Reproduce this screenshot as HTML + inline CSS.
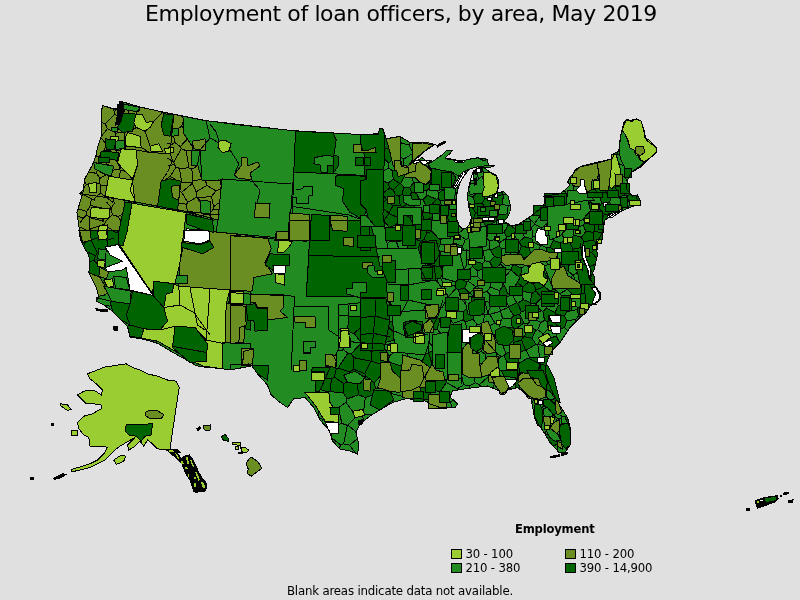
<!DOCTYPE html>
<html><head><meta charset="utf-8"><title>Employment of loan officers, by area, May 2019</title>
<style>
html,body{margin:0;padding:0;background:#e0e0e0;}
body{width:800px;height:600px;overflow:hidden;position:relative;font-family:"DejaVu Sans","Liberation Sans",sans-serif;color:#000;}
#title{position:absolute;left:1px;top:0;width:800px;text-align:center;font-size:22px;letter-spacing:-0.38px;line-height:27px;white-space:nowrap;}
#legt{position:absolute;left:515px;top:522px;font-size:11.6px;letter-spacing:-0.2px;font-weight:bold;line-height:14px;white-space:nowrap;}
.sw{position:absolute;width:9px;height:8px;border:1px solid #000;}
.lb{position:absolute;font-size:11.7px;letter-spacing:-0.18px;line-height:14px;white-space:nowrap;}
#foot{position:absolute;left:0;top:584px;width:800px;text-align:center;font-size:11.8px;letter-spacing:-0.2px;line-height:14px;white-space:nowrap;}
svg{position:absolute;left:0;top:0;}
</style></head><body>
<svg width="800" height="600" viewBox="0 0 800 600" shape-rendering="crispEdges" stroke-width="1">

<polygon points="87.5,373.8 105,367 115,365.5 126.2,363.8 132.5,367.5 140,370 147.5,373.8 157.5,376.2 167.5,380 176.2,381.2 179.2,387.5 175,415 170,448.8 177.5,450 180,452.5 172.5,452.5 166.2,450 157.5,448.8 152.5,443.8 147.5,440 143.8,446.2 140,441.2 135,446.2 128.8,450 127.5,445 135,437.5 126.2,442.5 120,446.2 115,450 110,455 105,460 97.5,463.8 90,467.5 80,470 71.2,472 71.2,469.5 80,467 90,463.8 97.5,460 103.8,453.8 107.5,447.5 102.5,446.2 95,446.2 90,446.2 88.8,437.5 83.8,435 78.8,428.8 77.5,422.5 83.8,416.2 92.5,413.8 101.2,408.8 101.2,405 93.8,403.8 86.2,403.8 81.2,398.8 77.5,395 83.8,391.2 93.8,390 101.2,395 102.5,390 96.2,383.8 90,378.8" fill="#9acd32" stroke="#000"/>
<polygon points="102.5,105.5 108,107 114,109 117,108 119,104 120,101 140,107 165,112.5 205,120.5 240,125 295,130.8 360,134.5 378.8,134 379.2,128 382.5,128 386.2,138.8 400,136.5 409,142 418,142 425.5,143.5 433.8,145 428.5,148 421,154 415,159.2 409,163.8 419.5,159.2 422,157.5 425,160 428.5,163.8 436,159.2 442,154.8 446.5,150.7 452.5,150.2 449.5,154 445,157.8 448,159.2 455.5,160 460,162.2 466,160 472,158.5 478,157.8 484,160.8 487,159.2 488.5,165.2 494.5,165.7 490,167.5 484,167.5 490,172 496,175 498.2,179.5 498.2,188.5 496,193 491.5,196 497.5,193 503.5,191.5 508,196 510.2,205 510,212 507,218 503.8,221.2 510,225 517.5,225 525,220 532.5,215 543.8,206.2 544.5,200 543.8,196.2 552,195 560,193.8 566,189 570,185 567.5,182.5 570,177.5 575,171.2 581.2,166.2 596.2,162.5 612.5,158.8 613.8,153.8 618.8,151.2 621.2,132.5 625.5,121.2 628.8,119.5 631.2,122 636.2,118.8 641.2,121.2 646.2,140 656.2,147.5 656.2,152.5 647.5,160 640,167.5 631.2,172.5 627.5,180 626.2,188.8 632.5,196.2 637.5,195 640,200 640,205 632.5,206.2 623.8,210 616.2,212.5 608.8,217.5 605,220 602.5,232.5 596,245 597.5,255 594,270 590,279 600,292.5 600,300 590,306 586,312.5 577.5,320 570,327.5 560,342.5 552.5,350 547.5,360 545,370 547.5,380 552.5,392.5 561,407.5 567.5,417.5 570,427.5 570,445 565,452.5 559,452.5 550,442.5 544,432.5 537.5,422.5 534,415 532.5,406 531,399 524,392.5 517.5,387.5 507.5,390 502.5,394 497.5,390 487.5,386 475,387.5 460,389.5 452.5,391 450,397 457.5,404 455,407.5 440,407.5 430,404 420,398 405,399 392.5,402.5 380,410 370,416 360,424 356,432.5 359,445 357.5,454 350,451 340,449 332.5,441 329,430 320,420 313.8,407.5 305,397.5 293.8,398.8 287.5,407.5 280,402.5 271.2,395 267.5,385 257.5,373.8 251.2,365 249,364 231,364.4 230,370 220,368.4 204,367 196,365.6 192,363 172,352 159,344 155,342.4 142,339 130,337 129,333 127.5,326.2 121.2,320 112.5,311.2 103.8,305 96.2,301.2 98.8,296.2 96.2,287.5 92.5,280 88.8,272.5 90,265 88.8,255 85,248.8 80.5,240 79.5,230 78,220 77,212.5 79.5,203.8 82,196.2 83.8,188.8 84.2,180 87.5,173.8 92.5,165 95.8,155.5 98,146.2 101.2,136.2 102,127.5 101,115" fill="#228b22" stroke="#000"/>
<polygon points="102.5,105.5 115.5,110 122.5,103.8 140,107 165,112.5 182.5,116.2 183,118 184,134 192,146 193,152 191,164 198,166 202,180 219,181 222,179 218,220 185,211.2 125,200 80,193.8 83.8,188.8 84.2,180 87.5,173.8 92.5,165 95.8,155.5 98,146.2 101.2,136.2 102,127.5 101,115" fill="#6b8e23" stroke="#000"/>
<polygon points="182.5,116.2 205,120.5 295.5,131 293,196 291,239 216,232 218,220 222,179 219,181 202,180 198,166 191,164 193,152 192,146 184,134 183,118" fill="#228b22" stroke="#000"/>
<polygon points="80,193.8 125,200 122.5,240 80.5,240 79.5,230 78,220 77,212.5 79.5,203.8 82,196.2" fill="#6b8e23" stroke="#000"/>
<polygon points="125,202 186.2,212.5 180,262.5 175,283.8 153.8,281.2 152.5,293.8 118.8,243.8" fill="#9acd32" stroke="#000"/>
<polygon points="78.8,230 118.8,230 118,244.5 105.5,247 105.5,267.5 100,277.5 92.5,280 88.8,272.5 90,265 88.8,255 85,248.8 80.5,240" fill="#006400" stroke="#000"/>
<polygon points="186.2,230 216,232 250,235.5 250,291.2 230,290 178.8,286.2 180,262.5" fill="#6b8e23" stroke="#000"/>
<polygon points="132.5,291.2 153,295.5 163.8,307.5 167.5,321.2 160,330 143.8,328.8 130,325 126.2,315 130,303.8" fill="#006400" stroke="#000"/>
<polygon points="173.8,283.8 178.8,286.2 230,290 226.2,303.8 225,343.8 222.5,368.8 203.8,366.2 195,362.5 157.5,341.2 141.2,338 143.8,328.8 160,330 167.5,321.2 163.8,307.5 166.2,293.8 172.5,292.5" fill="#9acd32" stroke="#000"/>
<polygon points="175,326.2 195,327.5 207.5,343.8 206.2,361.2 190,362.5 172.5,347.5" fill="#006400" stroke="#000"/>
<polygon points="226.2,303.8 246.2,305 243.8,342.5 225,343.8" fill="#6b8e23" stroke="#000"/>
<polygon points="222.5,342.5 250,343.8 250,366.2 230,370 222.5,368.8" fill="#228b22" stroke="#000"/>
<polygon points="295.5,131.2 333,133 336.2,140 333.8,155.5 338.8,156.2 338.8,165 333,173.8 293.8,172" fill="#006400" stroke="#000"/>
<polygon points="360.5,134.5 378.8,133.8 379.2,128 382.5,128 386.2,138.8 390,152.5 393,165 391.2,176.2 382.5,182.5 366.2,181.2 365,175 364.2,155 360.8,143.8" fill="#006400" stroke="#000"/>
<polygon points="336.2,175 365,176.2 366.2,181.2 367.5,207.5 362.5,220 355,215 350,212.5 342.5,201.2 343.8,188.8 335,185" fill="#006400" stroke="#000"/>
<polygon points="366,169 405,169 405,178 430.5,181 432,170.5 453,170.5 456,187 444,199 444,209.5 453,220 450,238 435,250 403.5,250 403.5,226 370.5,226 366,209.5 360,203.5 360,181 366,179.5" fill="#006400" stroke="#000"/>
<polygon points="370.5,226 403.5,226 403.5,250 375,250 370.5,235" fill="#228b22" stroke="#000"/>
<polygon points="230,235 235,236.2 267.5,237.5 271.2,248.8 265,262.5 272.5,273.8 253.8,277.5 252.5,290 246.2,293.8 230,292.5" fill="#6b8e23" stroke="#000"/>
<polygon points="245,293.8 283.8,295 283.8,307.5 280,311.2 287.5,317.5 267.5,320 267.5,307.5 257.5,307.5 255,302.5 245,303.8" fill="#6b8e23" stroke="#000"/>
<polygon points="310,220 370,220 377.5,252.5 381.2,257.5 387.5,270 387.5,297.5 306.2,296.2 308.8,255" fill="#006400" stroke="#000"/>
<polygon points="360,300 380,302.5 381.2,315 390,320 390,337.5 380,342.5 355,340 347.5,330 347.5,315 360,312.5" fill="#006400" stroke="#000"/>
<polygon points="340,347.5 380,343.8 390,350 402.5,370 337.5,370" fill="#006400" stroke="#000"/>
<polygon points="312.5,367.5 337.5,367.5 340,347.5 373.8,348.8 377.5,360 390,362.5 392.5,375 380,380 377.5,395 390,400 380,410 375,412.5 360,402.5 350,405 340,416.2 330,402.5 328.8,392 315,391.2 315,380 325,380 324.5,371.2 311.2,371.2" fill="#006400" stroke="#000"/>
<polygon points="568,230 580,226 594,222 604,226 602,240 594,248 588,260 580,258 576,266 568,260 564,248" fill="#006400" stroke="#000"/>
<polygon points="468.5,194.2 482.7,196.5 492.5,195 497.7,192.7 504.5,192.7 509,199.5 509.7,210 506,214.5 504.5,220.5 485,220.5 473,219.7 470,213 470.7,207 467.7,201" fill="#006400" stroke="#000"/>
<path d="M419.3 168.3 422.1 168.9 428.7 166.3 429.7 163 428.5 163.8 425 160 422 157.5 419.5 159.2 416.1 160.7ZM426.3 148.9 413.2 152.9 413.1 153.3 415.4 158.9 421 154 426.7 149.4ZM495.8 239.4 499.3 242.9 506.1 238.3 506.5 236.7 503.9 232.3 497.7 231.6 496.8 232.3ZM450.8 402 451.4 407.3 451.8 407.5 455 407.5 457.5 404 453.4 400.1ZM519 242 510.5 245.7 509.7 247.5 511.1 251.7 518.8 253.5 521.3 245.9 519.1 242ZM627.1 208.5 620.4 204.5 612.6 207.3 611.7 213.7 612.5 214.6 613 214.6 616.2 212.5 623.8 210 627.1 208.6ZM420.9 393.7 418.3 392.6 406.7 396 405.8 397.2 405.9 398.9 420 398 424.2 400.5ZM543.7 234.7 533 236.5 531.8 238.3 532.7 242.1 540.9 245.6 541.9 245.2 544.3 235.3ZM545.4 259.2 547.6 263.9 550.7 265.3 559 262.2 556.5 254.6 545.7 258.8ZM386.8 322.6 399.4 318.9 399.4 310.5 390 304.7 383.3 317.9ZM567.1 205.9 568.5 214.6 570.3 215.2 577.1 209.4 577.5 204.2 576.7 203.2 571.7 202.1ZM654.4 149.2 656.2 150.4 656.2 147.5 655.1 146.6ZM461.6 375 452.5 369.6 446.2 381.1 446.4 382.5 457.4 388.7 463.6 384.8ZM476.5 352.6 481.7 351.7 483 343.3 477.1 340.8 469.7 345.2ZM332 363.5 331 365.7 332.3 365.6ZM450.3 354.8 453.6 350.9 450.7 339.2 449.3 337.2 444 337.1 434 348.1 433.8 350.1 436.1 352.6ZM654.4 149.2 649.2 151.9 645.2 159.2 645.5 160.3 646.4 161.1 647.5 160 656.2 152.5 656.2 150.4ZM398 278.9 390.6 273 388 273.8 388 286.9 394.6 288.2ZM449.3 310.6 447.6 303.3 445.2 300.7 442.4 299.4 438.4 299.3 430.8 313.4 440 319.4 447.5 316.2ZM494.1 334.7 500.8 329.2 498.6 324 495 323.1 487 327.1 486.8 332.1ZM451.4 244.9 440.7 244.2 437.2 249.9 439.2 252.1 452.6 254.4ZM350.4 332.7 347.6 329.1 338 329.1 338 340.5 342.9 344ZM388.4 168.1 388.5 163.2 384.2 158.4 383.9 170.6ZM318.7 417.3 320 420 321.5 421.7 323 419.5 323 419.4ZM395.4 238.7 400.3 236.2 401.5 228 396.9 224.2 389.2 227.5 388.5 231.6 393 238.1ZM426.3 148.9 426.7 149.4 428.5 148 433.8 145 430.7 144.4 426.8 147.2ZM443.2 155.6 444.2 152.8 442 154.8 440.6 155.8ZM477.4 286.4 481 279.9 477.3 276 470.2 277.1 468.3 281.3 475.8 286.6ZM600.5 162.2 600.3 164 605.2 171.6 611.3 172 616.7 163 615.6 156.5 613.2 155.9 612.5 158.8 601.7 161.2ZM506.4 387.7 502.2 381.3 495.1 381.7 492.9 388.2 497.5 390 501.6 393.3ZM400.8 347.6 389.3 355.9 388.3 361.6 403.5 366.9 407.5 363.6 407.1 353.9 401.1 347.7ZM550.7 390.5 548.3 388.5 536.1 390.5 535.3 392.4 536.2 397.6 544.4 403.7 545.1 403.5 551.5 393.1ZM343.8 349.7 342.9 344 338 340.5 338 350 337.5 351.2ZM576.9 283.9 581.2 285.3 586 281.7 580.8 271.8 579 271.4 573.1 275.3ZM576.7 171.5 578 170.3 577.6 169.2 575 171.2 574.6 171.8ZM347.2 398.8 345.9 402.4 356.6 416.4 362.1 415.7 363.1 414.7 365.3 397.5 358.6 394.9ZM348.1 425.1 347.3 425.3 343.7 443.9 349.5 445.2 357.5 438.6 356 432.5 356.2 432.1ZM483.6 301.3 492.2 302.8 495.6 300.8 495.6 300.8 487.1 291.5 482.8 292.8 481.5 295.8ZM475.9 166.8 475.8 165.6 473.5 162.6 460.5 163 457.7 170.6 461 175.8 464.3 175.4 464.5 175 470 169 475 167.5 475.7 167.3ZM564.5 304.5 566.6 311.8 577.5 309.5 578.2 307.8 570.3 301.4 565.4 303ZM432.9 295.7 431.5 291.1 421.6 284.9 412.5 292.2 412.4 292.3 421.7 301ZM348.1 316 349.1 303.9 338 305 338 315.3ZM515 376.5 506.3 374.3 502.2 381.3 506.4 387.7 511.8 388.9 515.8 387.9ZM485.3 354.4 485.9 360.4 495.2 363.3 501 356.4 492.9 350.6ZM472.7 303.8 474.7 297.9 470.1 293 469.3 293 462.6 300.2 467.3 307ZM557.3 418.5 555 425.4 561.1 431.8 567.3 427.4 565.1 417.5ZM440.4 278.1 445 285.4 454.9 286.1 456.5 277.6 452.3 274.2 443.1 273.9ZM485.6 227.3 488.3 231.5 496.8 232.3 497.7 231.6 496.5 221.3 485.7 226.5ZM507.5 258.2 501.7 258.8 500.7 264.2 505.7 269.6 510.8 269.1 513.8 264.2 513.6 263.2ZM396.7 155.8 403.9 159 413.1 153.3 413.2 152.9 408.9 145 397 141.8 394.3 146.8ZM340.7 445 331.4 437.6 332.5 441 339.3 448.3ZM323 419.4 323 419.5 333 426.4 341.9 423.5 338.4 407.7 329.4 407ZM470.6 233.3 475.6 230.9 472.9 221.2 469.7 223.1 469 225 466 228 464.9 228.3ZM577.1 209.4 582.7 215.8 588.5 210.8 587.7 205.1 577.5 204.2ZM489.4 175.5 491.6 172.8 490 172 484 167.5 478 168 477.9 168.1ZM475.8 165.6 475.9 166.8 476.4 167.1 481 166 484 167.5 490 167.5 493.5 166.1 493.4 165.6 488.5 165.2 487.7 161.9ZM640.2 136.3 638 141.1 649.2 151.9 654.4 149.2 655.1 146.6 646.2 140 644.6 133.7ZM436.3 401.9 425.5 401.3 430 404 436.3 406.2ZM564.5 327.5 559.7 328.8 556.9 332 556.2 336.1 559.6 342.3 560.1 342.3 567.9 330.6ZM446 229.1 446.9 233.9 454 237 458.1 233.9 458.1 233.8 453.6 223.7ZM388.4 168.1 392.7 170.7 403.6 170 403.9 159 396.7 155.8 388.5 163.2ZM411.9 262.3 405.4 264.5 403.5 277.1 406.3 278.5 416 275.6 418.5 267.1ZM516.6 302.7 517.8 303.2 523.1 299.5 522.4 291.8 512.6 293.2 512.1 294.3ZM323 419.4 329.4 407 327.2 403.6 318 402.2 318 416 318.7 417.3ZM551.7 349.8 547.6 356.6 548.6 357.9 552.5 350 552.9 349.6ZM526 350.2 529.9 357.9 539.7 357.1 537.8 344.8 537.7 344.7 536 344.3ZM576.7 203.2 580.5 194 573.1 191.1 567.7 194.7 571.7 202.1ZM573.4 184.2 576.8 182.2 576.7 171.5 574.6 171.8 570 177.5 567.6 182.3 567.9 182.8ZM483.8 250.9 489.1 249.4 489.4 240.8 486.7 238.2 480.4 239.5 478 243.3ZM570.3 215.2 573.3 219.6 582.4 218.4 582.7 215.8 577.1 209.4ZM487.6 271.8 487.6 278.8 490.1 280.7 499.3 278 495.3 268 492.6 267.6ZM629.1 168.7 624.8 176.5 627.3 181.3 627.5 180 631.2 172.5 634.9 170.4ZM472.4 207.2 474.9 203 472.8 196.8 467.7 195.4 467.5 197.5 468.9 207.6ZM637.2 202.9 630 204.8 627.1 208.5 627.1 208.6 632.5 206.2 640 205 640 204.5ZM573.1 275.3 579 271.4 576.3 263.7 569 265.2 568 270.9 572.8 275.2ZM402.4 377.5 404.1 379.2 417.7 380.1 419.6 378.1 416.9 365.3 407.5 363.6 403.5 366.9ZM545.8 207.1 538.8 212.3 539.6 216.8 546.4 218.6 549.4 214.2ZM480 182.2 479.8 182.6 484.7 188.9 491 188.3 493.6 184.1 493.6 183.6 489.3 177.7ZM426.8 147.2 430.7 144.4 425.5 143.5 424.9 143.4ZM461 299.5 458.5 289.6 455.9 288.3 445.2 300.7 447.6 303.3ZM615.8 186.5 624.6 186.9 626.8 184.6 627.3 181.3 624.8 176.5 614.7 176.4 613.6 184.5ZM452.9 259.9 442.5 264.4 441.3 267.2 443.1 273.9 452.3 274.2 456.4 263.6ZM548.3 388.5 547.9 381.4 541.6 377.3 532.7 382.5 536.1 390.5ZM498.6 324 502.5 318.1 500.4 311.4 489.7 314.3 495 323.1ZM451.5 196.7 450.8 200.5 456.2 202.7 456.2 197.5 457.2 192.6ZM374.4 382.8 375.5 388.5 389.6 389.3 393.4 380.7 383.8 372.2ZM392.1 262.4 395.5 259.2 395.4 255.8 388 250.5 388 262.1ZM541.9 245.2 546.7 248 549.9 247.1 553.4 240.4 550.9 235.2 544.3 235.3ZM426.3 207 423.2 199.6 419.1 198.9 413 203.7 415.8 209.3 422.4 210.4ZM645.5 160.3 640.4 167.1 646.4 161.1ZM521.1 227.7 522.8 228.8 531.6 227.8 534.6 224.1 534.5 223.5 528.3 217.8 525 220 521.3 222.5ZM506.5 236.7 506.1 238.3 510.5 245.7 519 242 514.2 235.2ZM362.1 415.7 356.6 416.4 348.1 425.1 356.2 432.1 360 424 364 420.8ZM508.8 224.5 515.9 229.3 521.1 227.7 521.3 222.5 517.5 225 510 225 508.8 224.3ZM393.4 380.7 389.6 389.3 392.1 393.8 405.8 397.2 406.7 396 404.1 379.2 402.4 377.5ZM527.3 324.1 524.1 323 515.2 329.2 522.8 337.3 524.6 336.6 528.2 325.9ZM423.9 179.2 422.1 168.9 419.3 168.3 410 173.1 413.7 182.7 418.6 184ZM450.8 200.5 450.4 200.8 449.4 209.9 453.8 213.3 456.5 211.8 456.2 208 456.2 202.7ZM432.8 169.1 433.3 181.1 440.5 180.8 442.2 170.1ZM442.4 299.4 445 285.4 440.4 278.1 437.9 279 431.5 291.1 432.9 295.7 438.4 299.3ZM590.1 176.8 584.6 185.9 584.7 186.2 595.7 190.4 598.8 179.3 598.7 178.9ZM489.1 249.4 490.4 250 499.3 246.1 499.3 242.9 495.8 239.4 489.4 240.8ZM539.6 216.8 538.8 212.3 537.2 211.3 532.5 215 528.3 217.8 534.5 223.5ZM453.1 323.3 463.1 319.8 463.1 311.7 449.3 310.6 447.5 316.2ZM453.6 350.9 462.2 352 468.2 344.9 466.2 341.2 450.7 339.2ZM465.3 269.7 467.4 270.2 472.6 266.8 473.9 261.2 473.5 260.4 464.9 259.2 461.1 263.9ZM578 170.3 586.3 170.1 587.7 167.7 587.5 164.7 581.2 166.2 577.6 169.2ZM561.1 431.8 555 425.4 548.2 426.6 544.6 433.4 544.8 433.6 558.9 439.5ZM529 247.9 531.3 254.3 535.1 255.7 540.9 245.6 532.7 242.1ZM599.1 194 596.8 193.1 590.2 199 590 202.3 599.7 206 601.8 203.3ZM525.5 265.2 528.7 266.7 535.4 263.4 537.3 258.5 535.1 255.7 531.3 254.3 524.6 257.9ZM530.3 272.8 526.6 276.9 528.5 282 533.6 283.9 537.8 278.9 536.4 273.3ZM535.4 263.4 538.4 270.6 543.5 270.3 547.6 263.9 545.4 259.2 537.3 258.5ZM456.5 184.4 452.5 183.8 447.2 190.5 451.5 196.7 457.2 192.6 457.8 190 458 189.1ZM485.1 342.2 492.6 344 494.9 341.9 494.1 334.7 486.8 332.1 486 332.9ZM557.9 405.8 554.1 408 553 414.7 557.3 418.5 565.1 417.5 566.3 415.7 561 407.5 560.9 407.3ZM584.6 222.2 582.4 218.4 573.3 219.6 571.6 227.5 573 229 583.4 225.3ZM452.4 369 452.5 369.6 461.6 375 470.9 371.2 470.1 362 466.1 360.3ZM531.8 402.7 532.5 406 533.1 409.5 535 410.9 541.8 408.8 544.4 403.7 536.2 397.6ZM578 170.3 576.7 171.5 576.8 182.2 584.6 185.9 590.1 176.8 586.3 170.1ZM414 252.5 411.9 262.3 418.5 267.1 425.5 266.3 427.7 264 428.5 255.9 417.3 250.7ZM493.6 183.6 493.6 184.1 498.2 186.4 498.2 180.1ZM626.6 141.4 624.7 130.1 622.3 129.7 621.2 132.5 619.8 143.6ZM410 173.1 406.3 172.5 400.8 183.5 404 187 409.6 187.4 413.7 182.7ZM565.2 281.8 562 280.1 555.4 282 554.8 289.3 559.3 293.2 560.3 293.3 567.5 289.3 567.7 288.7ZM550.7 390.5 551.5 393.1 553.7 394.6 552.5 392.5 551.5 390ZM624.7 130.1 626.6 141.4 632.6 144.4 638 141.1 640.2 136.3 629.9 127.1ZM541.7 369.4 541.6 377.3 547.9 381.4 548 381.3 547.5 380 545 370 545.2 369ZM450.8 402 453.4 400.1 450 397 452.5 391 457.4 390 457.4 388.7 446.4 382.5 439.7 392.4 440.4 397.4ZM456.4 263.6 452.3 274.2 456.5 277.6 457.3 277.5 465.3 269.7 461.1 263.9ZM361 342.3 360.9 343.7 371.5 351.8 381.1 343 378.2 336 372.2 333.9ZM501 356.4 495.2 363.3 495.5 368.2 505.7 372.5 508.8 364.6 503.8 355.8ZM451 367.3 452.4 369 466.1 360.3 462.2 352 453.6 350.9 450.3 354.8ZM392.1 393.8 389.6 389.3 375.5 388.5 371.6 395.4 383.1 408.1 385.9 406.4ZM427 330.1 425 337.7 434 348.1 444 337.1 437.1 329.1ZM609.7 202.4 612.6 207.3 620.4 204.5 619.9 196.8 616.6 195.5 610.9 197.9ZM450.7 339.2 466.2 341.2 467.2 331.4 467 331.2 453.4 331.1 449.3 337.2ZM546.2 202.8 548.8 195.5 543.8 196.2 544.5 200 544.3 201.8ZM535.3 392.4 536.1 390.5 532.7 382.5 529.8 380.6 518.8 388.5 524 392.5 525.8 394.1ZM495.1 381.7 502.2 381.3 506.3 374.3 505.7 372.5 495.5 368.2 489.5 375.4 489.6 375.6ZM503.2 194.5 503.1 194.6 502.9 204.2 508.1 206.1 510.2 205.2 510.2 205 508 196 506.4 194.4ZM487.1 291.5 490.4 287 490.1 280.7 487.6 278.8 481 279.9 477.4 286.4 482.8 292.8ZM544.4 403.7 541.8 408.8 545.9 417.1 553 414.7 554.1 408 545.1 403.5ZM532.1 338.3 536 344.3 537.7 344.7 543.3 333.8 543.3 333.8 537.7 329.8 535.8 330.2ZM467.3 307 462.6 300.2 461 299.5 447.6 303.3 449.3 310.6 463.1 311.7 467.1 307.9ZM543.5 270.3 547.8 278 550.9 277.7 553.9 272.3 550.7 265.3 547.6 263.9ZM508.1 206.1 507.6 213.9 508.6 214.8 510 212 510.2 205.2ZM506.4 387.7 501.6 393.3 502.5 394 507.5 390 511.8 388.9ZM470.6 184.1 475.1 185.2 479.8 182.6 480 182.2 475.4 169.7 473.5 171 470.5 179.5 470.4 180.1ZM328.9 392.2 327.2 403.6 329.4 407 338.4 407.7 345.9 402.4 347.2 398.8 343.1 393 329.9 391.5ZM474.2 314.8 473.1 319.2 477.1 324.6 483 323.2 484.9 313.9 482.6 312.5ZM600.1 161.6 596.2 162.5 587.5 164.7 587.7 167.7 600.3 164 600.5 162.2ZM633.3 120.7 631.7 121.7 629.9 127.1 640.2 136.3 644.6 133.7 641.5 122ZM349.5 445.2 343.7 443.9 340.7 445 339.3 448.3 340 449 350 451 355.8 453.3ZM323 419.5 321.5 421.7 329 430 331 436.2 333 426.4ZM626.8 195.9 624.8 195 619.9 196.8 620.4 204.5 627.1 208.5 630 204.8ZM371.6 395.4 365.3 397.5 363.1 414.7 372 414.8 380 410 383.1 408.1ZM444.4 169 446 159.6 443.2 155.6 440.6 155.8 436 159.2 429.7 163 428.7 166.3 432.8 169.1 442.2 170.1ZM405.8 397.2 392.1 393.8 385.9 406.4 392.5 402.5 405 399 405.9 398.9ZM443.2 155.6 446 159.6 453.7 159.8 448 159.2 445 157.8 449.5 154 452.5 150.2 446.5 150.7 444.2 152.8ZM452.6 254.4 439.2 252.1 442.5 264.4 452.9 259.9 453 254.9ZM417.7 380.1 404.1 379.2 406.7 396 418.3 392.6ZM535 410.9 533.1 409.5 534 415 534.6 416.3ZM645.2 159.2 649.2 151.9 638 141.1 632.6 144.4 631.6 154.1 632.4 155.4ZM518.8 253.5 511.1 251.7 507.5 258.2 513.6 263.2 520 256.3ZM482.5 263.3 482.8 268.6 487.6 271.8 492.6 267.6 489.6 261.6 485.1 260.9ZM499.5 290.7 490.4 287 487.1 291.5 495.6 300.8 500 297.1ZM535.8 330.2 537.7 329.8 540.8 322.3 532.7 318.5 527.3 324.1 528.2 325.9ZM416.9 365.3 421.9 362.6 424.8 354.5 416.7 348.8 407.1 353.9 407.5 363.6ZM484.9 313.9 487.7 313.4 492.2 302.8 483.6 301.3 480.8 306.6 482.6 312.5ZM525.8 394.1 531 399 531.8 402.7 536.2 397.6 535.3 392.4ZM564.9 240.2 569 240.5 574 234.9 573 229 571.6 227.5 563.9 226.6 559.7 229.7ZM340.7 445 343.7 443.9 347.3 425.3 341.9 423.5 333 426.4 331 436.2 331.4 437.6ZM463.6 250 470.6 250 475 243.7 468.7 238.4 465.4 239.5 462.4 246.3ZM387.1 243.7 388 250 388 250.5 395.4 255.8 399.3 250.4 395.4 238.7 393 238.1ZM438.1 198.8 439.1 192.7 430.8 186.8 426.7 190.8 427 195.2 436.4 199.3ZM550.9 235.2 555.5 229.6 552.8 224.7 548 222.7 541.6 228 543.7 234.7 544.3 235.3ZM631.6 154.1 632.6 144.4 626.6 141.4 619.8 143.6 618.8 151.2 617.8 151.7 617.6 154.5ZM567.2 194.5 564.2 190.4 560 193.8 555.7 194.4 558.3 200.9ZM396 137.9 397 141.8 408.9 145 410.6 142 409 142 400 136.5 396.6 137.1ZM461 175.8 457.7 170.6 450.1 172.3 449.9 181 452.5 183.8 456.5 184.4 459.9 181.4ZM348.1 316 348.9 316.9 360.5 316.9 365.1 307 362.6 302.5 349.1 303.9ZM425.5 266.3 418.5 267.1 416 275.6 421.8 282.7 429 276.1ZM629.1 168.7 634.9 170.4 640 167.5 640.4 167.1 645.5 160.3 645.2 159.2 632.4 155.4 628.5 167.2ZM531.6 227.8 533 236.5 543.7 234.7 541.6 228 534.6 224.1ZM501.6 248.5 501.2 258.2 501.7 258.8 507.5 258.2 511.1 251.7 509.7 247.5ZM365.1 307 372.7 308.3 379.2 300.9 362.6 302.5ZM540.9 245.6 535.1 255.7 537.3 258.5 545.4 259.2 545.7 258.8 546.7 248 541.9 245.2ZM501.6 342.4 505.9 353.3 511.8 351.1 513.6 342.6 510.2 338.7 505.2 338.1ZM388.1 183.2 393.1 179 392.7 170.7 388.4 168.1 383.9 170.6 383.7 181.1ZM614.7 176.4 624.8 176.5 629.1 168.7 628.5 167.2 616.7 163 611.3 172ZM508.5 307.4 508.7 306.9 505.1 298.1 500 297.1 495.6 300.8 495.6 300.8 500.7 310.5ZM547.7 301.4 545.6 298.7 541.7 297.9 535.5 303.9 541.2 310.8 542.8 311.2 546.7 308.2ZM470.1 362 470.9 371.2 473.7 373.7 483.1 370.2 482.7 363.8 472 361.1ZM467.2 331.4 466.2 341.2 468.2 344.9 469.7 345.2 477.1 340.8 476.8 333.4 474.1 330.8ZM451.4 407.3 450.8 402 440.4 397.4 436.3 401.9 436.3 406.2 440 407.5 451.3 407.5ZM501.4 278.7 501.3 278.6 499.3 278 490.1 280.7 490.4 287 499.5 290.7 502.7 286.3ZM470.2 277.1 477.3 276 477.9 271.1 472.6 266.8 467.4 270.2ZM554.2 300.6 547.7 301.4 546.7 308.2 555.1 312.4 558.3 305.5ZM590.7 281.6 593.2 289.1 598.4 291.7 599.2 291.4 591.4 281ZM569 265.2 576.3 263.7 577.5 260.7 571.3 252.8 568.6 253.9 565.6 261.5ZM520 256.3 513.6 263.2 513.8 264.2 521.3 268 525.5 265.2 524.6 257.9ZM470.6 184.1 469.4 184.7 468.2 190 467.7 195.4 472.8 196.8 476.2 193.5 475.1 185.2ZM521.3 268 520.9 274.9 526.6 276.9 530.3 272.8 528.7 266.7 525.5 265.2ZM469.1 385.9 475.1 382.8 473.7 373.7 470.9 371.2 461.6 375 463.6 384.8ZM363.1 414.7 362.1 415.7 364 420.8 370 416 372 414.8ZM545.1 418.7 536.7 420.8 537.5 422.5 544 432.5 544.5 433.3 544.6 433.4 548.2 426.6ZM466.1 360.3 470.1 362 472 361.1 476.5 352.6 469.7 345.2 468.2 344.9 462.2 352ZM559.1 440.1 557 444.6 558.1 451.5 559 452.5 565 452.5 570 445 570 443ZM476.8 333.4 477.1 340.8 483 343.3 485.1 342.2 486 332.9ZM470.6 250 474.8 255.8 483.1 252.1 483.8 250.9 478 243.3 475 243.7ZM502.9 204.2 498.7 206.4 499 214.7 507.6 213.9 508.1 206.1ZM527.7 362.5 529.9 357.9 526 350.2 525.6 350.1 517.1 353.4 519.4 364.8ZM624.7 130.1 629.9 127.1 631.7 121.7 631.2 122 628.8 119.5 625.5 121.2 622.3 129.7ZM572.4 294.9 570.3 301.4 578.2 307.8 580.6 306.2 580 294.6ZM460.5 163 473.5 162.6 473.8 158.3 472 158.5 466 160 460 162.2 459.8 162.2ZM392.1 262.4 390.6 273 398 278.9 403.5 277.1 405.4 264.5 395.5 259.2ZM565.4 303 570.3 301.4 572.4 294.9 567.5 289.3 560.3 293.3ZM458.1 233.8 464.9 228.3 462.5 229 459.5 226 457.8 221.9 454 222.2 453.6 223.7ZM503.9 232.3 508.6 224.6 497.1 220.3 496.5 221.3 497.7 231.6ZM388.5 231.6 389.2 227.5 383.9 220.6 383.8 220.6 385.5 232.5ZM428.8 378.2 432.5 374.6 432.7 369.6 421.9 362.6 416.9 365.3 419.6 378.1ZM485.1 342.2 483 343.3 481.7 351.7 485.3 354.4 492.9 350.6 492.6 344ZM587.7 167.7 586.3 170.1 590.1 176.8 598.7 178.9 605.2 171.6 600.3 164ZM473.2 220.5 472.9 221.2 475.6 230.9 477.1 231.4 485.6 227.3 485.7 226.5 483.4 221.6ZM440 319.4 437.1 329.1 444 337.1 449.3 337.2 453.4 331.1 453.1 323.3 447.5 316.2ZM469.1 385.9 463.6 384.8 457.4 388.7 457.4 390 460 389.5 469.4 388.2ZM580.5 194 582.6 192.8 584.7 186.2 584.6 185.9 576.8 182.2 573.4 184.2 573.1 191.1ZM528.1 309.7 532.9 315 541.2 310.8 535.5 303.9 530.7 303.7ZM469.3 293 470.1 293 475.8 286.6 468.3 281.3 467.2 281.8 464.6 288ZM453.8 213.3 452.9 220 454 222.2 457.8 221.9 457 220 456.5 211.8ZM555.4 282 550.9 277.7 547.8 278 545.6 279.9 544.6 286.5 549.2 290.6 554.8 289.3ZM485.1 260.9 489.6 261.6 494.2 256.5 490.4 250 489.1 249.4 483.8 250.9 483.1 252.1ZM557.9 405.8 560.9 407.3 558.3 402.7ZM540.2 357.5 547.6 356.6 551.7 349.8 547.2 345.5 537.8 344.8 539.7 357.1ZM432.7 369.6 432.5 374.6 446.2 381.1 452.5 369.6 452.4 369 451 367.3 437.5 364.8ZM477.1 324.6 474.1 330.8 476.8 333.4 486 332.9 486.8 332.1 487 327.1 483 323.2ZM511 318.6 502.5 318.1 498.6 324 500.8 329.2 501.6 329.7 512.2 327.1ZM545.1 403.5 554.1 408 557.9 405.8 558.3 402.7 553.7 394.6 551.5 393.1ZM459.9 181.4 456.5 184.4 458 189.1 460 182.5 460.5 181.6ZM495.5 368.2 495.2 363.3 485.9 360.4 482.7 363.8 483.1 370.2 489.5 375.4ZM462.4 246.3 465.4 239.5 458.1 233.9 454 237 453.6 242.7ZM479.5 384.5 480.8 386.8 487.5 386 492.9 388.2 495.1 381.7 489.6 375.6ZM500.8 329.2 494.1 334.7 494.9 341.9 501.6 342.4 505.2 338.1 501.6 329.7ZM566.7 320.6 575.3 319.7 578.4 316.1 577.5 309.5 566.6 311.8 564.5 316ZM356.6 416.4 345.9 402.4 338.4 407.7 341.9 423.5 347.3 425.3 348.1 425.1ZM421.7 301 412.4 292.3 406.3 296.1 406.6 305.8 413.8 311.1 420.5 308.9ZM452.9 259.9 456.4 263.6 461.1 263.9 464.9 259.2 462.9 251.2 453 254.9ZM568 270.9 561.8 272 562 280.1 565.2 281.8 572.8 275.2ZM578.4 316.1 575.3 319.7 576 321.5 577.5 320 580.8 317ZM482.8 292.8 477.4 286.4 475.8 286.6 470.1 293 474.7 297.9 481.5 295.8ZM537.8 344.8 547.2 345.5 549.3 338.4 543.3 333.8 537.7 344.7ZM425 337.7 416.8 341 416.7 348.8 424.8 354.5 433.8 350.1 434 348.1ZM523.1 299.5 529.9 302.2 532.3 293.2 522.8 291.3 522.4 291.8ZM453.4 331.1 467 331.2 465.6 321.9 463.1 319.8 453.1 323.3ZM548.2 329 547 321.5 544.6 320.5 540.8 322.3 537.7 329.8 543.3 333.8ZM501.6 342.4 494.9 341.9 492.6 344 492.9 350.6 501 356.4 503.8 355.8 505.9 353.3ZM347.8 353.2 351 353.8 360.9 343.7 361 342.3 354 333.4 350.4 332.7 342.9 344 343.8 349.7ZM416 275.6 406.3 278.5 412.5 292.2 421.6 284.9 421.8 282.7ZM567.3 427.4 561.1 431.8 558.9 439.5 559.1 440.1 570 443 570 428.1ZM475.1 382.8 469.1 385.9 469.4 388.2 475 387.5 480.8 386.8 479.5 384.5ZM468.7 238.4 475 243.7 478 243.3 480.4 239.5 477.1 231.4 475.6 230.9 470.6 233.3ZM432.9 295.7 421.7 301 420.5 308.9 427.1 314.1 430.8 313.4 438.4 299.3ZM473.5 162.6 475.8 165.6 487.7 161.9 487 159.2 484 160.8 478 157.8 473.8 158.3ZM628.5 167.2 632.4 155.4 631.6 154.1 617.6 154.5 615.6 156.5 616.7 163ZM550.9 235.2 553.4 240.4 560.9 242.9 564.9 240.2 559.7 229.7 555.5 229.6ZM575.3 319.7 566.7 320.6 564.5 327.5 567.9 330.6 570 327.5 576 321.5ZM555.7 194.4 552 195 548.8 195.5 546.2 202.8 546.8 203.7 557.5 204.1 558.3 200.9ZM474.8 255.8 473.5 260.4 473.9 261.2 482.5 263.3 485.1 260.9 483.1 252.1ZM502.5 318.1 511 318.6 513.7 315.6 508.5 307.4 500.7 310.5 500.4 311.4ZM413.8 311.1 406.6 305.8 399.4 310.5 399.4 318.9 402.3 320.9 411.4 318.6ZM347.6 329.1 348.9 316.9 348.1 316 338 315.3 338 329.1ZM372.7 308.3 378.9 316.8 383.3 317.9 390 304.7 389.4 302.3 384.2 300.4 379.2 300.9ZM408.9 145 413.2 152.9 426.3 148.9 426.8 147.2 424.9 143.4 418 142 410.6 142ZM442 190.2 441.3 181.6 440.5 180.8 433.3 181.1 431 182.9 430.8 186.8 439.1 192.7ZM482.8 268.6 477.9 271.1 477.3 276 481 279.9 487.6 278.8 487.6 271.8ZM393 238.1 388.5 231.6 385.5 232.5 387.1 243.7ZM495.3 268 499.3 278 501.3 278.6 505.7 269.6 500.7 264.2ZM547.9 381.4 548.3 388.5 550.7 390.5 551.5 390 548 381.3ZM427 195.2 426.7 190.8 420.3 188.6 416.6 193.3 419.1 198.9 423.2 199.6ZM532.7 318.5 532.9 315 528.1 309.7 521.3 311.7 519.5 314.6 524.1 323 527.3 324.1ZM449.4 209.9 450.4 200.8 440.9 201 441.2 209.6 443.3 211.6ZM480.4 239.5 486.7 238.2 488.3 231.5 485.6 227.3 477.1 231.4ZM521.1 227.7 515.9 229.3 514.2 235.2 519 242 519.1 242 524.2 237.4 522.8 228.8ZM557 444.6 552.9 445.7 558.1 451.5ZM528.7 266.7 530.3 272.8 536.4 273.3 538.4 270.6 535.4 263.4ZM506.1 238.3 499.3 242.9 499.3 246.1 501.6 248.5 509.7 247.5 510.5 245.7ZM473.1 319.2 465.6 321.9 467 331.2 467.2 331.4 474.1 330.8 477.1 324.6ZM541.8 408.8 535 410.9 534.6 416.3 536.7 420.8 545.1 418.7 545.9 417.1ZM503.2 194.5 506.4 194.4 503.5 191.5 502.5 191.7ZM338.1 368.1 347.8 353.2 343.8 349.7 337.5 351.2 332 363.5 332.3 365.6 336.3 368.7ZM483 323.2 487 327.1 495 323.1 489.7 314.3 487.7 313.4 484.9 313.9ZM484.7 188.9 481.8 193.7 484.9 198.6 492.4 197.4 493 196.3 492.8 195.4 491.5 196 492.7 195.2 491 188.3ZM457.3 277.5 467.2 281.8 468.3 281.3 470.2 277.1 467.4 270.2 465.3 269.7ZM483.6 301.3 481.5 295.8 474.7 297.9 472.7 303.8 480.8 306.6ZM489.5 375.4 483.1 370.2 473.7 373.7 475.1 382.8 479.5 384.5 489.6 375.6ZM454 237 446.9 233.9 440.5 240.2 440.7 244.2 451.4 244.9 453.6 242.7ZM413.1 153.3 403.9 159 403.6 170 406.3 172.5 410 173.1 419.3 168.3 416.1 160.7 409 163.8 415 159.2 415.4 158.9ZM482.7 363.8 485.9 360.4 485.3 354.4 481.7 351.7 476.5 352.6 472 361.1ZM556.5 254.6 559 262.2 560.1 262.8 565.6 261.5 568.6 253.9 559.7 251 557.4 252.4ZM641.5 122 641.2 121.2 636.2 118.8 633.3 120.7ZM573 229 574 234.9 581.4 237.3 585.7 231.4 583.4 225.3ZM565.2 281.8 567.7 288.7 576.9 283.9 573.1 275.3 572.8 275.2ZM519.4 364.8 519.8 373 528.5 377.2 532.9 369.1 527.7 362.5 519.4 364.8ZM461 175.8 459.9 181.4 460.5 181.6 464.3 175.4ZM470.6 184.1 470.4 180.1 469.4 184.7ZM555 425.4 557.3 418.5 553 414.7 545.9 417.1 545.1 418.7 548.2 426.6ZM493.6 183.6 498.2 180.1 498.2 179.5 496 175 491.6 172.8 489.4 175.5 489.3 177.7ZM436.3 401.9 440.4 397.4 439.7 392.4 430.6 388.1 420.9 393.7 424.2 400.5 425.5 401.3ZM505.1 298.1 508.7 306.9 516.6 302.7 512.1 294.3ZM489.7 314.3 500.4 311.4 500.7 310.5 495.6 300.8 492.2 302.8 487.7 313.4ZM522.8 228.8 524.2 237.4 531.8 238.3 533 236.5 531.6 227.8ZM399.3 250.4 407.1 248.3 407.7 238.8 400.3 236.2 395.4 238.7ZM349.5 445.2 355.8 453.3 355.9 453.4 357.6 453.3 359 445 357.5 438.6ZM541.6 228 548 222.7 546.4 218.6 539.6 216.8 534.5 223.5 534.6 224.1ZM558.2 214.9 557.7 214.3 549.4 214.2 546.4 218.6 548 222.7 552.8 224.7ZM327.2 403.6 328.9 392.2 320.4 389.5 318 395 318 402.2ZM554.2 300.6 558.3 305.5 564.5 304.5 565.4 303 560.3 293.3 559.3 293.2ZM567.7 194.7 573.1 191.1 573.4 184.2 567.9 182.8 567.8 182.8 570 185 566 189 564.2 190.4 567.2 194.5ZM421.8 282.7 421.6 284.9 431.5 291.1 437.9 279 429 276.1ZM457.7 170.6 460.5 163 459.8 162.2 455.5 160 453.7 159.8 446 159.6 444.4 169 450.1 172.3ZM411.4 318.6 402.3 320.9 403.4 331 409.2 334.8 416.9 325.4ZM458.1 233.8 458.1 233.9 465.4 239.5 468.7 238.4 470.6 233.3 464.9 228.3 464.9 228.3ZM464.9 259.2 473.5 260.4 474.8 255.8 470.6 250 463.6 250 462.9 251.2ZM514.9 278.1 510.8 269.1 505.7 269.6 501.3 278.6 501.4 278.7 514.5 278.7ZM472.9 221.2 473.2 220.5 472.9 219.6 471.3 218.7 469.7 223.1ZM556.9 332 548.2 329 543.3 333.8 543.3 333.8 549.3 338.4 556.2 336.1ZM540.8 322.3 544.6 320.5 542.8 311.2 541.2 310.8 532.9 315 532.7 318.5ZM476.2 193.5 481.8 193.7 484.7 188.9 479.8 182.6 475.1 185.2ZM445.2 300.7 455.9 288.3 454.9 286.1 445 285.4 442.4 299.4ZM401.1 347.7 407.1 353.9 416.7 348.8 416.8 341 409.6 336.2ZM480 182.2 489.3 177.7 489.4 175.5 477.9 168.1 475.4 169.7ZM393.8 340.2 381.6 343.3 389.3 355.9 400.8 347.6ZM486.7 238.2 489.4 240.8 495.8 239.4 496.8 232.3 488.3 231.5Z" fill="#228b22" stroke="#000"/>
<path d="M372.7 308.3 365.1 307 360.5 316.9 364.5 323.9 367.4 325 378.9 316.8ZM423.2 325.6 427.1 314.1 420.5 308.9 413.8 311.1 411.4 318.6 416.9 325.4ZM472.4 207.2 468.9 207.6 469 208 471.5 218 471.3 218.7 472.9 219.6 475.6 212.9ZM588.6 306.6 588.5 306.3 580.6 306.2 578.2 307.8 577.5 309.5 578.4 316.1 580.8 317 586 312.5 588.7 308.1ZM564.5 327.5 566.7 320.6 564.5 316 556 314.5 552.7 319.9 559.7 328.8ZM510.8 269.1 514.9 278.1 520.9 274.9 521.3 268 513.8 264.2ZM601.8 203.3 599.7 206 599.8 209.4 604.6 214.4 611.7 213.7 612.6 207.3 609.7 202.4ZM325.4 378.2 320.4 389.5 328.9 392.2 329.9 391.5 331.6 379ZM395.5 259.2 405.4 264.5 411.9 262.3 414 252.5 407.1 248.3 399.3 250.4 395.4 255.8ZM429.7 207.4 436.4 199.3 427 195.2 423.2 199.6 426.3 207ZM365.4 376 357.2 383.7 358.6 394.9 365.3 397.5 371.6 395.4 375.5 388.5 374.4 382.8ZM420.3 188.6 426.7 190.8 430.8 186.8 431 182.9 423.9 179.2 418.6 184ZM389.4 302.3 396.6 293.6 394.6 288.2 388 286.9 388 300 384.2 300.4ZM389.6 188.3 388.1 183.2 383.7 181.1 383.5 192.7ZM598.7 178.9 598.8 179.3 607.7 187.1 613.6 184.5 614.7 176.4 611.3 172 605.2 171.6ZM392.9 206 388.8 213.1 388.9 213.6 397.9 217.4 403.1 214 402.4 207 400.2 205.3ZM425.5 266.3 429 276.1 437.9 279 440.4 278.1 443.1 273.9 441.3 267.2 427.7 264ZM593.2 289.1 590.7 281.6 586 281.7 581.2 285.3 581.5 293.2 587.8 294.7ZM523 286.8 522.8 291.3 532.3 293.2 535.9 290.8 536.1 289.8 533.6 283.9 528.5 282ZM371 361.3 354 357.7 353.5 369.2 364.9 373.6ZM605.7 192 599.1 194 601.8 203.3 609.7 202.4 610.9 197.9ZM517.1 353.4 511.8 351.1 505.9 353.3 503.8 355.8 508.8 364.6 519.4 364.8 519.4 364.8ZM493.6 184.1 491 188.3 492.7 195.2 496 193 498.2 188.5 498.2 186.4ZM493 196.3 503.1 194.6 503.2 194.5 502.5 191.7 497.5 193 492.8 195.4ZM415.8 209.3 410 217.5 413.2 224.4 421.3 224.8 423.6 220.9 422.4 210.4ZM409.6 187.4 404 187 401.9 194.6 408.6 197 411.8 192.6ZM413.2 224.4 413 224.6 410.8 237 420.5 241.4 424.2 239.2 427 232.3 421.3 224.8ZM416.6 193.3 420.3 188.6 418.6 184 413.7 182.7 409.6 187.4 411.8 192.6ZM454 222.2 452.9 220 442.9 218.1 438.9 221.9 438.9 225.1 446 229.1 453.6 223.7ZM512.2 327.1 501.6 329.7 505.2 338.1 510.2 338.7 515 329.2ZM557.9 204.6 557.5 204.1 546.8 203.7 545.8 207.1 549.4 214.2 557.7 214.3ZM615.6 156.5 617.6 154.5 617.8 151.7 613.8 153.8 613.2 155.9ZM439.2 252.1 437.2 249.9 435 250.3 428.5 255.9 427.7 264 441.3 267.2 442.5 264.4ZM392.9 206 400.2 205.3 399 196.2 395.4 194.8 388.8 200ZM582.1 247.5 573.1 249.2 571.3 252.8 577.5 260.7 583.6 259 586.4 252.6ZM447.2 190.5 452.5 183.8 449.9 181 441.3 181.6 442 190.2ZM386.2 199.5 388.8 200 395.4 194.8 393.2 189.7 389.6 188.3 383.5 192.7 383.4 194.9ZM544.8 433.6 544.7 433.7 550 442.5 552.9 445.7 557 444.6 559.1 440.1 558.9 439.5ZM407.7 238.8 410.8 237 413 224.6 401.5 228 400.3 236.2ZM640 204.5 640 200 637.9 195.8 636.9 196.6 637.2 202.9ZM450.8 200.5 451.5 196.7 447.2 190.5 442 190.2 439.1 192.7 438.1 198.8 440.9 201 450.4 200.8ZM464.6 288 467.2 281.8 457.3 277.5 456.5 277.6 454.9 286.1 455.9 288.3 458.5 289.6ZM560.1 262.8 560.6 271.2 561.8 272 568 270.9 569 265.2 565.6 261.5ZM588.5 306.3 588.6 306.6 589.5 306.8 590 306 598.9 300.7 596.5 298.9 590.8 300.4ZM517.8 303.2 521.3 311.7 528.1 309.7 530.7 303.7 529.9 302.2 523.1 299.5ZM386.2 199.5 383.4 194.9 383.2 203.2ZM483.4 221.6 485.7 226.5 496.5 221.3 497.1 220.3 496.8 217.7 486.3 213ZM446.4 382.5 446.2 381.1 432.5 374.6 428.8 378.2 430.6 388.1 439.7 392.4ZM517.1 353.4 525.6 350.1 521.5 340 513.6 342.6 511.8 351.1ZM515.9 229.3 508.8 224.5 508.6 224.6 503.9 232.3 506.5 236.7 514.2 235.2ZM378.9 316.8 367.4 325 372.2 333.9 378.2 336 386.7 325.2 386.8 322.6 383.3 317.9ZM394.3 146.8 397 141.8 396 137.9 394.9 137.3 386.2 138.8 384.7 134.3 384.4 149.2ZM557.5 204.1 557.9 204.6 567.1 205.9 571.7 202.1 567.7 194.7 567.2 194.5 558.3 200.9ZM596.5 298.9 598.4 291.7 593.2 289.1 587.8 294.7 590.8 300.4ZM403.4 331 395.3 333.7 393.8 340.2 400.8 347.6 401.1 347.7 409.6 336.2 409.2 334.8ZM399 196.2 401.9 194.6 404 187 400.8 183.5 399.7 183.6 393.2 189.7 395.4 194.8ZM433.8 350.1 424.8 354.5 421.9 362.6 432.7 369.6 437.5 364.8 436.1 352.6ZM423.6 220.9 421.3 224.8 427 232.3 432.2 231.8 438.9 225.1 438.9 221.9 433.1 217.3ZM624.6 186.9 624.8 195 626.8 195.9 630.8 194.3 626.2 188.8 626.8 184.6ZM364.5 323.9 360.5 316.9 348.9 316.9 347.6 329.1 350.4 332.7 354 333.4ZM409.2 334.8 409.6 336.2 416.8 341 425 337.7 427 330.1 423.2 325.6 416.9 325.4ZM596.2 246.2 596 245 596 244.9 595.5 242.3 593.4 240.2 583.8 241.7 582.1 247.5 586.4 252.6 591.8 252.5ZM389.3 355.9 381.6 343.3 381.1 343 371.5 351.8 371.2 361.2 383.5 365 388.3 361.6ZM343.1 393 347.2 398.8 358.6 394.9 357.2 383.7 349.7 380.3 344 383.8ZM474.2 314.8 482.6 312.5 480.8 306.6 472.7 303.8 467.3 307 467.1 307.9ZM388.5 163.2 396.7 155.8 394.3 146.8 384.4 149.2 384.2 158.4ZM486.2 210.2 494.3 204.4 492.4 197.4 484.9 198.6 482.4 203.4ZM524.6 336.6 532.1 338.3 535.8 330.2 528.2 325.9ZM527.7 362.5 532.9 369.1 539.9 368 540.2 357.5 539.7 357.1 529.9 357.9ZM589.3 266.6 588.9 267.3 591.7 275.3 594 270 595.3 264.3ZM591.8 252.5 586.4 252.6 583.6 259 589.3 266.6 595.3 264.3 596.7 258.6ZM528.5 377.2 519.8 373 515 376.5 515.8 387.9 517.5 387.5 518.8 388.5 529.8 380.6ZM486.2 210.2 482.4 203.4 474.9 203 472.4 207.2 475.6 212.9 485.9 212.1ZM400.8 183.5 406.3 172.5 403.6 170 392.7 170.7 393.1 179 399.7 183.6ZM600.2 221.5 595.1 222.4 594.4 231.3 602.3 232.8 602.5 232.5 604 224.9ZM354 357.7 351 353.8 347.8 353.2 338.1 368.1 349.7 371.9 353.5 369.2ZM595.1 222.4 594.3 221.9 584.6 222.2 583.4 225.3 585.7 231.4 593.4 232.3 594.4 231.3ZM494.2 256.5 489.6 261.6 492.6 267.6 495.3 268 500.7 264.2 501.7 258.8 501.2 258.2ZM624.8 195 624.6 186.9 615.8 186.5 616.6 195.5 619.9 196.8ZM501.4 278.7 502.7 286.3 511.1 288.7 514.9 281 514.5 278.7ZM524.2 237.4 519.1 242 521.3 245.9 529 247.9 532.7 242.1 531.8 238.3ZM559.7 251 560.9 242.9 553.4 240.4 549.9 247.1 557.4 252.4ZM554.8 289.3 549.2 290.6 545.6 298.7 547.7 301.4 554.2 300.6 559.3 293.2ZM390 304.7 399.4 310.5 406.6 305.8 406.3 296.1 396.6 293.6 389.4 302.3ZM612.5 214.6 611.7 213.7 604.6 214.4 600.2 221.5 604 224.9 605 220 608.8 217.5 612.5 215ZM559.7 328.8 552.7 319.9 547 321.5 548.2 329 556.9 332ZM383.9 220.6 388.9 213.6 388.8 213.1 383.1 208.5 383 215 383.8 220.6ZM396.6 293.6 406.3 296.1 412.4 292.3 412.5 292.2 406.3 278.5 403.5 277.1 398 278.9 394.6 288.2ZM441.2 209.6 440.9 201 438.1 198.8 436.4 199.3 429.7 207.4 433.2 211.4ZM567.7 288.7 567.5 289.3 572.4 294.9 580 294.6 581.5 293.2 581.2 285.3 576.9 283.9ZM592.9 213.4 588.5 210.8 582.7 215.8 582.4 218.4 584.6 222.2 594.3 221.9ZM593.4 240.2 593.4 232.3 585.7 231.4 581.4 237.3 583.8 241.7ZM590.2 199 596.8 193.1 595.7 190.4 584.7 186.2 582.6 192.8ZM371.2 361.2 371.5 351.8 360.9 343.7 351 353.8 354 357.7 371 361.3ZM399.4 318.9 386.8 322.6 386.7 325.2 395.3 333.7 403.4 331 402.3 320.9ZM555.5 229.6 559.7 229.7 563.9 226.6 562.6 216.8 558.2 214.9 552.8 224.7ZM581.4 237.3 574 234.9 569 240.5 573.1 249.2 582.1 247.5 583.8 241.7ZM568.6 253.9 571.3 252.8 573.1 249.2 569 240.5 564.9 240.2 560.9 242.9 559.7 251ZM402.4 207 410 202.7 408.6 197 401.9 194.6 399 196.2 400.2 205.3ZM424.2 239.2 435 250.3 437.2 249.9 440.7 244.2 440.5 240.2 432.2 231.8 427 232.3ZM486.3 213 496.8 217.7 499 214.7 498.7 206.4 494.3 204.4 486.2 210.2 485.9 212.1ZM388.3 361.6 383.5 365 383.8 372.2 393.4 380.7 402.4 377.5 403.5 366.9ZM544.3 201.8 543.8 206.2 537.2 211.3 538.8 212.3 545.8 207.1 546.8 203.7 546.2 202.8ZM407.7 238.8 407.1 248.3 414 252.5 417.3 250.7 420.5 241.4 410.8 237ZM546.7 308.2 542.8 311.2 544.6 320.5 547 321.5 552.7 319.9 556 314.5 555.1 312.4ZM365.4 376 374.4 382.8 383.8 372.2 383.5 365 371.2 361.2 371 361.3 364.9 373.6ZM562 280.1 561.8 272 560.6 271.2 553.9 272.3 550.9 277.7 555.4 282ZM541.7 369.4 539.9 368 532.9 369.1 528.5 377.2 529.8 380.6 532.7 382.5 541.6 377.3ZM438.9 221.9 442.9 218.1 443.3 211.6 441.2 209.6 433.2 211.4 433.1 217.3ZM428.8 378.2 419.6 378.1 417.7 380.1 418.3 392.6 420.9 393.7 430.6 388.1ZM544.6 286.5 536.1 289.8 535.9 290.8 541.7 297.9 545.6 298.7 549.2 290.6ZM413 203.7 410 202.7 402.4 207 403.1 214 410 217.5 415.8 209.3ZM419.1 198.9 416.6 193.3 411.8 192.6 408.6 197 410 202.7 413 203.7ZM472.8 196.8 474.9 203 482.4 203.4 484.9 198.6 481.8 193.7 476.2 193.5ZM438.9 225.1 432.2 231.8 440.5 240.2 446.9 233.9 446 229.1ZM559.6 342.3 556.2 336.1 549.3 338.4 547.2 345.5 551.7 349.8 552.9 349.6 558.7 343.8ZM508.8 364.6 505.7 372.5 506.3 374.3 515 376.5 519.8 373 519.4 364.8ZM535.5 303.9 541.7 297.9 535.9 290.8 532.3 293.2 529.9 302.2 530.7 303.7ZM507.6 213.9 499 214.7 496.8 217.7 497.1 220.3 508.6 224.6 508.8 224.5 508.8 224.3 503.8 221.2 507 218 508.6 214.8ZM344 383.8 349.7 380.3 349.7 371.9 338.1 368.1 336.3 368.7 334.3 377ZM519.5 314.6 521.3 311.7 517.8 303.2 516.6 302.7 508.7 306.9 508.5 307.4 513.7 315.6ZM616.6 195.5 615.8 186.5 613.6 184.5 607.7 187.1 605.7 192 610.9 197.9ZM514.9 281 511.1 288.7 512.6 293.2 522.4 291.8 522.8 291.3 523 286.8ZM605.7 192 607.7 187.1 598.8 179.3 595.7 190.4 596.8 193.1 599.1 194ZM588.9 267.3 580.8 271.8 586 281.7 590.7 281.6 591.4 281 590 279 591.7 275.3ZM417.3 250.7 428.5 255.9 435 250.3 424.2 239.2 420.5 241.4ZM587.8 294.7 581.5 293.2 580 294.6 580.6 306.2 588.5 306.3 590.8 300.4ZM600.2 221.5 604.6 214.4 599.8 209.4 592.9 213.4 594.3 221.9 595.1 222.4ZM598.4 291.7 596.5 298.9 598.9 300.7 600 300 600 292.5 599.2 291.4ZM430.8 313.4 427.1 314.1 423.2 325.6 427 330.1 437.1 329.1 440 319.4ZM510.2 338.7 513.6 342.6 521.5 340 522.8 337.3 515.2 329.2 515 329.2ZM562.6 216.8 568.5 214.6 567.1 205.9 557.9 204.6 557.7 214.3 558.2 214.9ZM393.8 340.2 395.3 333.7 386.7 325.2 378.2 336 381.1 343 381.6 343.3ZM590 202.3 587.7 205.1 588.5 210.8 592.9 213.4 599.8 209.4 599.7 206ZM515.2 329.2 524.1 323 519.5 314.6 513.7 315.6 511 318.6 512.2 327.1 515 329.2ZM563.9 226.6 571.6 227.5 573.3 219.6 570.3 215.2 568.5 214.6 562.6 216.8ZM555.1 312.4 556 314.5 564.5 316 566.6 311.8 564.5 304.5 558.3 305.5ZM547.6 356.6 540.2 357.5 539.9 368 541.7 369.4 545.2 369 547.5 360 548.6 357.9ZM493 196.3 492.4 197.4 494.3 204.4 498.7 206.4 502.9 204.2 503.1 194.6ZM463.1 311.7 463.1 319.8 465.6 321.9 473.1 319.2 474.2 314.8 467.1 307.9ZM512.6 293.2 511.1 288.7 502.7 286.3 499.5 290.7 500 297.1 505.1 298.1 512.1 294.3ZM595.5 242.3 596 244.9 598.1 240.9ZM388.8 213.1 392.9 206 388.8 200 386.2 199.5 383.2 203.2 383.1 208.5ZM594.4 231.3 593.4 232.3 593.4 240.2 595.5 242.3 598.1 240.9 602.3 232.8ZM565.1 417.5 567.3 427.4 570 428.1 570 427.5 567.5 417.5 566.3 415.7ZM501.6 248.5 499.3 246.1 490.4 250 494.2 256.5 501.2 258.2ZM442.9 218.1 452.9 220 453.8 213.3 449.4 209.9 443.3 211.6ZM390.6 273 392.1 262.4 388 262.1 388 273.8ZM520.9 274.9 514.9 278.1 514.5 278.7 514.9 281 523 286.8 528.5 282 526.6 276.9ZM531.3 254.3 529 247.9 521.3 245.9 518.8 253.5 520 256.3 524.6 257.9ZM596.7 258.6 597.5 255 596.2 246.2 591.8 252.5ZM577.5 204.2 587.7 205.1 590 202.3 590.2 199 582.6 192.8 580.5 194 576.7 203.2ZM462.9 251.2 463.6 250 462.4 246.3 453.6 242.7 451.4 244.9 452.6 254.4 453 254.9ZM410 217.5 403.1 214 397.9 217.4 396.9 224.2 401.5 228 413 224.6 413.2 224.4ZM437.5 364.8 451 367.3 450.3 354.8 436.1 352.6ZM533.6 283.9 536.1 289.8 544.6 286.5 545.6 279.9 537.8 278.9ZM433.2 211.4 429.7 207.4 426.3 207 422.4 210.4 423.6 220.9 433.1 217.3ZM626.8 195.9 630 204.8 637.2 202.9 636.9 196.6 635.4 195.5 632.5 196.2 630.8 194.3ZM589.3 266.6 583.6 259 577.5 260.7 576.3 263.7 579 271.4 580.8 271.8 588.9 267.3ZM522.8 337.3 521.5 340 525.6 350.1 526 350.2 536 344.3 532.1 338.3 524.6 336.6ZM353.5 369.2 349.7 371.9 349.7 380.3 357.2 383.7 365.4 376 364.9 373.6ZM336.3 368.7 332.3 365.6 331 365.7 325.4 378.2 331.6 379 334.3 377ZM475.6 212.9 472.9 219.6 473.2 220.5 483.4 221.6 486.3 213 485.9 212.1ZM367.4 325 364.5 323.9 354 333.4 361 342.3 372.2 333.9ZM472.6 266.8 477.9 271.1 482.8 268.6 482.5 263.3 473.9 261.2ZM397.9 217.4 388.9 213.6 383.9 220.6 389.2 227.5 396.9 224.2ZM637.9 195.8 637.5 195 635.4 195.5 636.9 196.6ZM428.7 166.3 422.1 168.9 423.9 179.2 431 182.9 433.3 181.1 432.8 169.1ZM549.9 247.1 546.7 248 545.7 258.8 556.5 254.6 557.4 252.4ZM550.7 265.3 553.9 272.3 560.6 271.2 560.1 262.8 559 262.2ZM440.5 180.8 441.3 181.6 449.9 181 450.1 172.3 444.4 169 442.2 170.1ZM462.6 300.2 469.3 293 464.6 288 458.5 289.6 461 299.5ZM331.6 379 329.9 391.5 343.1 393 344 383.8 334.3 377ZM393.2 189.7 399.7 183.6 393.1 179 388.1 183.2 389.6 188.3ZM537.8 278.9 545.6 279.9 547.8 278 543.5 270.3 538.4 270.6 536.4 273.3Z" fill="#006400" stroke="#000"/>
<path d="M107.4 128.8L116.2 133.2M93.8 199L94.8 201.3M118.7 184.9L120.3 170M129.7 107.6L139.3 108.9M114.6 155.7L120 168.5M88.5 171.9L96.7 173.4M93.8 199L100.5 193M125.6 171.3L127.4 170.5M96 154.3L97 156M99.6 183.5L99.8 178.4M95.4 156.6L97 156M135.6 121.7L135.6 128.6M120.2 118.2L125.1 130.7M135.6 121.7L137.8 117.2M100.7 155.3L114.6 155.7M119 185.5L123.5 187.3M128.3 113.2L135.6 121.7M124.2 131.7L125.1 130.7M114.6 114.1L120.2 118.2M128.8 156.2L130.5 156.5M99.6 183.5L100.4 185.1M114.6 155.7L117.5 149.6M105.3 123.9L114.6 114.1M100.8 137.7L106.9 144.9M120 168.5L128.8 156.2M100.5 193L112.9 202.3M100.7 155.3L106.9 144.9M113.6 108.9L114.6 114.1M106.9 144.9L111.1 143.9M101.1 136.6L107.4 128.8M116.2 133.2L124.2 131.7M111.1 143.9L116.2 133.2M120.2 118.2L128.3 113.2M128.3 113.2L129.7 107.6M117.5 149.6L125.4 148.1M99 158L114.8 169.5M124.2 131.7L125.9 147M90.9 201.1L92.1 199.2M125.1 130.7L135.6 128.6M125.6 171.3L126.9 172.4M120.3 170L125.6 171.3M84.2 180L86.3 184.8M125.4 148.1L128.8 156.2M119.3 103.1L121.3 102.1M126.2 102.8L129.7 107.6M111.1 143.9L117.5 149.6M96.7 173.4L99 158M100.4 185.1L118.7 184.9M83.8 187.6L86.3 184.8M125.4 148.1L125.9 147M114.8 169.5L119.9 169.4M97 156L98.6 156.7M100.4 185.1L100.5 193M99.8 178.4L114.8 169.5M92.1 199.2L93.8 199M101.6 122.4L105.3 123.9M82.5 194.3L92.1 199.2M105.3 123.9L107.4 128.8M98.6 156.7L100.7 155.3M86.3 184.8L99.6 183.5M96.7 173.4L99.8 178.4M112.9 202.3L119 185.5M98.6 156.7L99 158M125.9 147L132.8 145.6M220.1 189.3L220.9 190.5M213.5 206.8L213.5 209M181.7 192.3L187.7 202.4M192.9 180.4L201.9 179.7M205.8 213.8L209.2 214.1M166.5 127.7L169.7 131.6M166.6 179L170.1 176.4M170.1 176.4L176 167.2M186.6 204.1L187.3 212.1M186.1 150.7L192.7 150.4M167.6 158.2L173.8 161.9M185.9 214L187.3 212.1M180.6 182.6L181.7 182M196.2 191.8L196.4 197.3M169.2 191.2L169.7 202.3M187.3 212.1L199.4 217.1M173.8 161.9L174.4 164.4M162.2 206.9L169.7 202.3M199.4 217.1L205.8 213.8M172.8 132.8L175.1 142.6M180.3 146.6L181.4 148.6M167.9 166.1L174.4 164.4M188.9 167.9L191.8 169.1M217.9 179.2L220.8 181.6M176 167.2L179.4 168.3M186.6 204.1L187.7 202.4M181.7 182L192.1 182.3M196.2 191.8L206.9 185.4M220.1 189.3L221.2 187.1M172 144.3L175.1 142.6M181.4 148.6L186.1 150.7M176.8 189.4L181.7 192.3M165.2 187.4L169.2 191.2M181.6 126.1L183.2 121.1M173.8 161.9L181.4 148.6M187.7 202.4L196.4 197.3M213.5 209L219.2 209.1M179.4 168.3L188.9 167.9M169.7 202.3L170.6 202.8M181.6 126.1L183.6 128.2M170.1 176.4L180.6 182.6M196.4 197.3L197.8 198M169.7 131.6L172.8 132.8M205.2 179.8L206.9 185.4M206.9 185.4L216.1 190.9M170.6 202.8L173.3 210.7M220.8 181.6L221.9 180.1M172.8 132.8L181.6 126.1M186.1 150.7L188.9 167.9M191.8 169.1L192.9 180.4M179.4 168.3L181.7 182M192.1 182.3L192.3 183.5M211.6 196.4L213.5 206.8M209.2 214.1L213.5 209M169.2 191.2L176.8 189.4M211.6 196.4L216.1 190.9M174.4 164.4L176 167.2M167.3 149L172 144.3M191.8 169.1L197.5 165.9M197.8 198L205.8 213.8M220.8 181.6L221.2 187.1M175.1 142.6L180.3 146.6M209.2 214.1L213.5 220.9M170.6 202.8L186.6 204.1M180.3 146.6L187.3 139M192.3 183.5L196.2 191.8M197.8 198L211.6 196.4M167.1 143.4L172 144.3M213.5 206.8L219.8 202.2M181.7 192.3L192.3 183.5M166.7 133.5L169.7 131.6M192.1 182.3L192.9 180.4M176.8 189.4L180.6 182.6M216.1 190.9L220.1 189.3M90 217.6L104.3 221.5M89.6 229.3L90 217.6M97.1 290.4L99.7 287.5M104.3 271.1L105.9 270.8M79.7 223.5L83.4 217.9M93.9 260.3L95.4 255.7M80.4 227.1L88.4 231.2M90.6 205L93.8 206.4M87 214.8L90 217.6M78 208.9L86.8 211.6M111.3 207.8L114.9 202.4M93.8 206.4L111.1 209.7M86.8 251.8L95.4 255.7M111.1 209.7L112.4 214.7M88.4 231.2L90 239.7M107 240.5L107.8 246.1M116.6 233L118.3 230.8M84 244.9L85.3 241.8M86.8 211.6L87 214.8M102.6 236L105.1 225.2M111.1 209.7L111.3 207.8M104.9 224L105.1 225.2M90.5 200.9L90.6 205M112.4 214.7L118 216.5M105.9 270.8L106.7 270M93.2 277.5L97.8 278M86.8 211.6L90.6 205M83.4 217.9L87 214.8M95.4 255.7L97.3 252.9M97.3 252.9L105.1 251.7M90.9 240L102.6 236M88.4 231.2L89.6 229.3M83.2 240.9L85.3 241.8M105.9 270.8L106.9 272M85.3 241.8L90 239.7M90.9 240L97.3 252.9M93.9 260.3L104.3 271.1M102.6 236L107 240.5M99.7 287.5L105.6 289.4M118 216.5L120.7 220.7M118 216.5L122.3 214.2M107 240.5L113.5 238.2M106.4 201.9L111.3 207.8M78.3 216.7L83.4 217.9M97.8 278L104.3 271.1M104.9 224L105.2 221.9M89.6 261.9L93.9 260.3M93.8 206.4L104.3 221.5M89.6 229.3L104.9 224M105.2 221.9L112.4 214.7M105.1 225.2L116.6 233M97.8 278L99.7 287.5" fill="none" stroke="#000"/>
<polygon points="548,207 566,204.4 588,200 590.4,211 582,220 568,227 560,236 550,240 547,226" fill="#228b22" stroke="#000"/>
<polygon points="568,190 588,192 594,200 588,200 566,204.4" fill="#228b22" stroke="#000"/>
<polygon points="544.4,194 566,193 567,204 548,207 545,200" fill="#006400" stroke="#000"/>
<polygon points="428.5,163.8 436,159.2 442,154.8 446.5,150.7 452.5,150.2 449.5,154 445,157.8 455.5,160 466,160 478,157.8 487,159.2 488.5,165.2 475,167.5 466,170.5 459.2,176.5 452,172 440,170 430,168" fill="#228b22" stroke="#000"/>
<polygon points="622,130 625,134 628,142 630,148 634,150 636,155 638,156 640,160 644,162 639,167 634,170 630,174 626,170 621,160 619,152 620,140" fill="#228b22" stroke="#000"/>
<polygon points="502,280 511,270 520,278 514,288 508,294" fill="#228b22" stroke="#000"/>
<polygon points="440,252 466,250 466,266 460,280 444,278" fill="#228b22" stroke="#000"/>
<polygon points="468,230 486,226 486,246 470,248" fill="#228b22" stroke="#000"/>
<polygon points="544,266 556,262 568,278 552,286" fill="#228b22" stroke="#000"/>
<polygon points="376,249 418,248 422,260 436,280 448,296 442,308 426,304 420,318 400,316 388,300 386,284 394,270 380,266" fill="#228b22" stroke="#000"/>
<polygon points="422,242 436,240 440,254 434,264 424,262" fill="#006400" stroke="#000"/>
<polygon points="422,268 434,266 436,280 424,280" fill="#006400" stroke="#000"/>
<polygon points="444,256 460,254 464,270 456,282 442,278" fill="#228b22" stroke="#000"/>
<polygon points="464,296 484,298 488,314 468,314" fill="#228b22" stroke="#000"/>
<polygon points="360,298 386,299 390,320 384,350 360,350" fill="#006400" stroke="#000"/>
<polygon points="431,168 440,170 452,172 456,178 452,188 440,190 432,186" fill="#006400" stroke="#000"/>
<polygon points="392,312 428,310 430,340 425,355 395,352" fill="#228b22" stroke="#000"/>
<polygon points="403,323 412,320 421,322 421,334 412,338 405,336" fill="#006400" stroke="#000"/>
<polygon points="432,335 447,332 462,335 461,378 447,380 432,372" fill="#228b22" stroke="#000"/>
<polygon points="470,169 464.5,175 460,182.5 457.8,190 456.2,197.5 456.2,208 457,220 459.5,226 462.5,229 466,228 469,225 471.5,218 469,208 467.5,197.5 468.2,190 470.5,179.5 473.5,171 478,168 484,167.5 481,166 475,167.5" fill="#e0e0e0" stroke="#000"/>
<polygon points="118,104.5 122.5,102.5 124.5,110 123,117.5 120,123.8 115.5,125 117,117.5 117.5,110" fill="#000000" stroke="#000"/>
<polygon points="123,113.8 135,113.8 135.5,121.2 132.5,131.2 122.5,132.5 117,127.5 120.5,122.5" fill="#006400" stroke="#000"/>
<polygon points="123,103.8 140,107.5 138.8,112 124.2,109.5" fill="#228b22" stroke="#000"/>
<polygon points="111.2,127.5 117,127.5 118,132 112,131.2" fill="#228b22" stroke="#000"/>
<polygon points="136.2,113.8 142.5,115 146.2,122.5 153.8,121.2 150,127.5 145,131.2 136.2,127.5 133.8,122.5" fill="#9acd32" stroke="#000"/>
<polygon points="163.8,113.8 173.8,115 172.5,122.5 170,136.2 163.8,135 161.2,125" fill="#006400" stroke="#000"/>
<polygon points="171.8,128 178,128.8 178.5,135.5 172,136.2" fill="#228b22" stroke="#000"/>
<polygon points="127.5,132.5 140,136.2 141.2,147.5 126.2,146.2 125,138.8" fill="#9acd32" stroke="#000"/>
<polygon points="150,146.2 158.8,143.8 162.5,151.2 151.2,152" fill="#9acd32" stroke="#000"/>
<polygon points="164.5,148.8 173.8,147 173.8,152.5 165.5,153.8" fill="#9acd32" stroke="#000"/>
<polygon points="110,136.2 118.8,137 118,142 111.2,141.2" fill="#9acd32" stroke="#000"/>
<polygon points="105.5,138.8 115.5,140 114.5,150 106.2,149.5" fill="#006400" stroke="#000"/>
<polygon points="101.2,151.2 118.8,152.5 117.5,160.5 100,157.5" fill="#006400" stroke="#000"/>
<polygon points="115.5,141.2 124.5,140 125,150 115.5,150.5" fill="#228b22" stroke="#000"/>
<polygon points="93.8,162.5 113.8,166.2 111.2,176.2 103.8,173.8 95,168.8" fill="#228b22" stroke="#000"/>
<polygon points="98.8,157.5 110,158 109.5,163 99,162" fill="#006400" stroke="#000"/>
<polygon points="121.2,148.8 136.2,150 137.5,165 132.5,178.8 123.8,170 117.5,162.5" fill="#9acd32" stroke="#000"/>
<polygon points="108.8,176.2 132.5,180 135,202.5 105,196.2" fill="#9acd32" stroke="#000"/>
<polygon points="88.8,183.8 96.2,182.5 96.2,192.5 89.5,193" fill="#9acd32" stroke="#000"/>
<polygon points="161.2,181.2 170,178.8 181.2,181.2 177.5,210 157.5,206.2" fill="#006400" stroke="#000"/>
<polygon points="171.2,186.2 180,185 178.8,200 172.5,197.5" fill="#6b8e23" stroke="#000"/>
<polygon points="192,141.2 200,140 205,138.8 205.5,150 200,150 193.8,148.8" fill="#6b8e23" stroke="#000"/>
<polygon points="191.2,150 200,150.5 197.5,165 191.2,165" fill="#228b22" stroke="#000"/>
<polygon points="218.8,141.2 225,140 231.2,143.8 228.8,151.2 222.5,152.5 218,147.5" fill="#9acd32" stroke="#000"/>
<polygon points="91.2,207.5 110,208.8 108.8,218.8 90,217.5" fill="#9acd32" stroke="#000"/>
<polygon points="98.8,226.2 107.5,225 108,237.5 99.5,238" fill="#9acd32" stroke="#000"/>
<polygon points="125,202 132,203 127,232 123,246 118,244.5 118.8,232" fill="#006400" stroke="#000"/>
<polygon points="186.2,213.8 212.5,220 213.8,232.5 202.5,230 186.2,223.8" fill="#006400" stroke="#000"/>
<polygon points="186.2,228.8 202.5,230 208.8,235 207.5,240 183.8,240" fill="#ffffff" stroke="#000"/>
<polygon points="200,200 210,201.2 210,215 201.2,213.8" fill="#228b22" stroke="#000"/>
<polygon points="79.5,230 90,230 91.2,240 82.5,242.5" fill="#6b8e23" stroke="#000"/>
<polygon points="97.5,231.2 106.2,230 107.5,238.8 98.8,240" fill="#9acd32" stroke="#000"/>
<polygon points="98.8,248.8 106.2,250 105.5,260 97.5,258.8" fill="#228b22" stroke="#000"/>
<polygon points="97,260 105.5,261.2 103.8,267.5 97.5,266.2" fill="#9acd32" stroke="#000"/>
<polygon points="100,267.5 108.8,272 106.2,278.8 98.8,276.2" fill="#6b8e23" stroke="#000"/>
<polygon points="185,230 208.8,230 210,240 200,243.8 183.8,241.2" fill="#ffffff" stroke="#000"/>
<polygon points="181.2,242.5 200,244.5 210,241.2 213.8,247.5 202.5,253.8 181.2,247" fill="#006400" stroke="#000"/>
<polygon points="176.2,275 187.5,275.8 187,283.8 175.8,283" fill="#228b22" stroke="#000"/>
<polygon points="105.5,247 118,244.5 153,295.5 130,290 126.2,267.5 122.5,270 107.5,272 105.5,267.5 122.5,261.2 110,255" fill="#ffffff" stroke="#000"/>
<polygon points="88.8,272.5 100,277.5 108.8,292.5 103.8,295.5 98.8,296.2 96.2,287.5 92.5,280" fill="#6b8e23" stroke="#000"/>
<polygon points="103.8,280 112.5,278.8 113.8,286.2 107.5,287.5" fill="#9acd32" stroke="#000"/>
<polygon points="113.8,276.2 126.2,277.5 130,290 115.5,288" fill="#228b22" stroke="#000"/>
<polygon points="103.8,286.2 131.2,291.2 130,303.8 112.5,302.5 108.8,295.5" fill="#228b22" stroke="#000"/>
<polygon points="96.2,297.5 111.2,301.2 110,306.2 103.8,305 96.2,301.2" fill="#228b22" stroke="#000"/>
<polygon points="110,301.2 130,303.8 126.2,315 130,325 121.2,320 112.5,311.2" fill="#006400" stroke="#000"/>
<polygon points="130,325 143.8,328.8 141.2,338 130,336.2 127.5,326.2" fill="#006400" stroke="#000"/>
<polygon points="153.8,281.2 173.8,283.8 172.5,292.5 166.2,293.8 163.8,307.5 153,295.5" fill="#006400" stroke="#000"/>
<polyline points="173,346.5 207,352.5" fill="none" stroke="#000"/>
<polygon points="246.2,305 250,305 250,330 245.5,328.8" fill="#006400" stroke="#000"/>
<polygon points="230,290 250,291.2 250,305 228.8,303.8" fill="#228b22" stroke="#000"/>
<polygon points="230,291.2 242.5,292.5 242,303 229.5,302.5" fill="#9acd32" stroke="#000"/>
<polygon points="96.2,308.8 107.5,310 107,312 97,310.5" fill="#000000" stroke="#000"/>
<polygon points="113.8,326.2 117,326.2 117,330.5 114,330" fill="#000000" stroke="#000"/>
<polygon points="242,157 247,158 247,166 258,162 260,166 250,173 252,180 238,178 234,175 241,166" fill="#6b8e23" stroke="#000"/>
<polyline points="222,179 291,184" fill="none" stroke="#000"/>
<polyline points="252,181 260,190 254,218" fill="none" stroke="#000"/>
<polyline points="295.5,130.8 293.8,172 291.2,206.2 288.8,240" fill="none" stroke="#000"/>
<polygon points="315,157.5 325,155.5 333,156.2 333,165 327.5,165 327.5,173 321.2,172.5 320,165 313.8,163.8" fill="#228b22" stroke="#000"/>
<polyline points="333,133 336.2,140 333.8,155.5 333,173.8" fill="none" stroke="#000"/>
<polygon points="353.8,144.5 361.2,144.5 361.8,150 368.8,150 375,147.5 376.2,152.5 353.8,152.5" fill="#6b8e23" stroke="#000"/>
<polygon points="355.5,157.5 363,157.5 363,165 355.5,165" fill="#006400" stroke="#000"/>
<polygon points="364.2,157.5 370.5,157.5 370.5,165 364.2,165" fill="#006400" stroke="#000"/>
<polyline points="293.8,172 333,173.8 365,175.5" fill="none" stroke="#000"/>
<polygon points="386.2,138.8 400,136.2 401.2,165 407.5,166.2 405,173.8 397.5,172.5 393,165 390,152.5" fill="#6b8e23" stroke="#000"/>
<polyline points="400,136.2 401.2,165" fill="none" stroke="#000"/>
<polygon points="412.5,143.8 427.5,142.5 435,144.5 425,151.2 415,160 412.5,160" fill="#6b8e23" stroke="#000"/>
<polygon points="412.5,162.5 425,163.8 430,170 428.8,183.8 420,182.5 415,176.2 405,173.8 407.5,166.2" fill="#6b8e23" stroke="#000"/>
<polyline points="296.2,190 302.5,188.8 303.8,186.2 312.5,186.2 312.5,195 308.8,196.2 308.8,203.8 296.2,203.8 296.2,197.5 291.2,197.5" fill="none" stroke="#000"/>
<polyline points="291.2,206.2 348.8,215 362.5,220" fill="none" stroke="#000"/>
<polygon points="255.5,203 270,203.8 269.5,218 254.5,217" fill="#6b8e23" stroke="#000"/>
<polygon points="289.5,213 310,214.5 309.5,240 288,240" fill="#6b8e23" stroke="#000"/>
<polygon points="311.2,214.5 330,215.5 329.5,240 310.5,240" fill="#006400" stroke="#000"/>
<polygon points="330.5,215.5 347.5,216.2 347,230 338.8,230.5 338.2,226.2 330,226.2" fill="#6b8e23" stroke="#000"/>
<polygon points="276.2,231.2 287.5,232 287.5,240 275,240" fill="#6b8e23" stroke="#000"/>
<polygon points="397.5,207.2 421.5,207.2 421.5,224.5 412.5,224.5 412.5,215.5 403.5,215.5 403.5,224.5 397.5,224.5" fill="#228b22" stroke="#000"/>
<polygon points="403.5,195.2 411,195.2 411.7,199 420,199.7 420,205 409.5,205.7 403.5,202" fill="#228b22" stroke="#000"/>
<polygon points="414.7,182.5 423,182.5 423,192.2 414.7,192.2" fill="#228b22" stroke="#000"/>
<polygon points="429,184 439.5,184 439.5,190 429,190" fill="#228b22" stroke="#000"/>
<polygon points="423,205 441,205 441,220 432,220 432,212.5 423,212.5" fill="#228b22" stroke="#000"/>
<polygon points="430.5,220 450,221.5 450,238 438,238 430.5,229" fill="#228b22" stroke="#000"/>
<polygon points="385.5,230.5 400.5,230.5 400.5,241 390,241 390,235 385.5,235" fill="#006400" stroke="#000"/>
<polygon points="360,226 369,226 370.5,250 360,250" fill="#006400" stroke="#000"/>
<polygon points="360,215.5 366,215.5 375,226 369,226 360,226" fill="#228b22" stroke="#000"/>
<polygon points="394.5,160 400.5,160 401.2,166.7 408,167.5 408,173.5 398.2,176.5 396.7,170.5 394.5,169.7" fill="#6b8e23" stroke="#000"/>
<polygon points="416.2,163 420,161.5 426,166 431.2,170.5 430.5,180.2 426,184.7 419.2,181.7 415.5,178 405,177.2 404.2,175 409.5,172.7 415.5,171.2" fill="#6b8e23" stroke="#000"/>
<polygon points="387.7,196 394.5,196 394.5,203.5 387.7,203.5" fill="#6b8e23" stroke="#000"/>
<polygon points="414.7,229.7 420,229.7 420,238.7 414.7,238.7" fill="#6b8e23" stroke="#000"/>
<polygon points="439.5,214.7 446.2,214.7 447,223.7 440.2,223.7" fill="#6b8e23" stroke="#000"/>
<polygon points="444,199.7 451.5,199.7 451.5,204.2 444,204.2" fill="#6b8e23" stroke="#000"/>
<polygon points="444,244 456,244 456,250 444,250" fill="#6b8e23" stroke="#000"/>
<polygon points="396,226 400.2,226 400.2,230.2 396,230.2" fill="#9acd32" stroke="#000"/>
<polygon points="451.8,199.7 455.2,199.7 455.2,204.2 451.8,204.2" fill="#9acd32" stroke="#000"/>
<polygon points="468.7,203.5 474.7,205 473.2,208.3 469.2,206.8" fill="#9acd32" stroke="#000"/>
<polygon points="467.2,221.5 473.2,221.5 472.5,232 467.2,232" fill="#9acd32" stroke="#000"/>
<polygon points="453.7,235.7 459.7,235.7 459.7,239.5 453.7,239.5" fill="#9acd32" stroke="#000"/>
<polygon points="471,218.5 480,217.7 480,230.5 471.7,230.5" fill="#6b8e23" stroke="#000"/>
<polygon points="444,209.5 456,209.5 457.5,226 450,230.5 448.5,220" fill="#006400" stroke="#000"/>
<polygon points="444,187 456,187 454.5,199 444,199" fill="#228b22" stroke="#000"/>
<polygon points="411,160 432,160 427.5,163.7 423,164.5 420,161.5 414,163.7" fill="#ffffff" stroke="#000"/>
<polygon points="453,160 465,160 463.5,163 456,162.7" fill="#ffffff" stroke="#000"/>
<polygon points="230,305 245,306.2 246.2,325 240,327.5 238.8,342.5 230,343.8" fill="#6b8e23" stroke="#000"/>
<polygon points="230,291.2 243.8,292 243.8,303.8 230,303.8" fill="#9acd32" stroke="#000"/>
<polygon points="246.2,305 255,303.8 257.5,308.8 267.5,308.8 267.5,330 255,331.2 253.8,320 247.5,320" fill="#006400" stroke="#000"/>
<polygon points="290,220 310,220 309.5,240.5 289.5,240" fill="#6b8e23" stroke="#000"/>
<polygon points="276.2,231.2 288.8,232 288.8,240 276.2,239.5" fill="#6b8e23" stroke="#000"/>
<polygon points="278.8,240.5 292.5,241.2 288.8,247.5 283.8,252.5 277.5,252.5" fill="#9acd32" stroke="#000"/>
<polygon points="270,253.8 290,255 289.5,265 283.8,266.2 272.5,270 265,265" fill="#006400" stroke="#000"/>
<polygon points="273,265.5 285.5,266 285,273.8 273.8,273" fill="#ffffff" stroke="#000"/>
<polygon points="275,273.8 284.5,274.5 284.5,285 275.5,282.5" fill="#9acd32" stroke="#000"/>
<polyline points="230,235 290,240.5 307.5,241.2" fill="none" stroke="#000"/>
<polyline points="309.5,240.5 306.2,296.2" fill="none" stroke="#000"/>
<polyline points="294.5,296.2 291.2,370" fill="none" stroke="#000"/>
<polyline points="230,292.5 245,293.8 295,296.2" fill="none" stroke="#000"/>
<polygon points="330,220 347.5,220 347,231.2 332.5,230.5" fill="#6b8e23" stroke="#000"/>
<polygon points="343.8,237.5 353.8,238 353.2,246.2 343.8,245.8" fill="#6b8e23" stroke="#000"/>
<polygon points="362.5,262.5 372.5,263 371.2,268.8 363,268.2" fill="#6b8e23" stroke="#000"/>
<polygon points="367.5,266.2 373.8,265 375,271.2 385,272.5 383.8,278 372.5,277.5 367.5,272.5" fill="#228b22" stroke="#000"/>
<polygon points="352.5,282.5 366.2,282.5 366.2,292.5 360,292.5 360,297.5 346.2,293.8 346.2,288.8 352.5,288.8" fill="#228b22" stroke="#000"/>
<polyline points="308.8,255.5 380,257" fill="none" stroke="#000"/>
<polygon points="357.5,235 375,235 375,247.5 357.5,247.5" fill="#006400" stroke="#000"/>
<polygon points="385,227.5 402.5,227.5 402.5,240 385,240" fill="#006400" stroke="#000"/>
<polygon points="402.5,225 415,225 415,245 402.5,245" fill="#006400" stroke="#000"/>
<polygon points="420,245 430,245 430,257.5 420,257.5" fill="#006400" stroke="#000"/>
<polygon points="382.5,260 395,260 395,282.5 387.5,282.5 382.5,270" fill="#006400" stroke="#000"/>
<polygon points="400,285 408.8,285 408.8,300 400,300" fill="#006400" stroke="#000"/>
<polygon points="422.5,265 430,265 430,280 422.5,280" fill="#006400" stroke="#000"/>
<polygon points="387.5,305 400,305 400,315 387.5,315" fill="#006400" stroke="#000"/>
<polygon points="405,321.2 422.5,321.2 422.5,337.5 405,337.5" fill="#006400" stroke="#000"/>
<polygon points="382.5,255 391.2,255 391.2,262.5 382.5,262.5" fill="#6b8e23" stroke="#000"/>
<polygon points="377.5,270 382,270 382,274.5 377.5,274.5" fill="#9acd32" stroke="#000"/>
<polygon points="387.5,292.5 393.8,292.5 393.8,301.2 387.5,301.2" fill="#6b8e23" stroke="#000"/>
<polygon points="413.8,332.5 423.8,332.5 423.8,342.5 413.8,342.5" fill="#9acd32" stroke="#000"/>
<polygon points="350,305 356.2,305 356.2,310 350,310" fill="#9acd32" stroke="#000"/>
<polygon points="395,225 400,225 400,230 395,230" fill="#9acd32" stroke="#000"/>
<polygon points="340,328.8 348.8,328.8 348.8,337.5 340,337.5" fill="#9acd32" stroke="#000"/>
<polygon points="338.8,338.8 350,338.8 350,347.5 338.8,347.5" fill="#9acd32" stroke="#000"/>
<polygon points="361.2,343.8 367.5,343.8 367.5,348.8 361.2,348.8" fill="#9acd32" stroke="#000"/>
<polygon points="387.5,345 396.2,345 396.2,350 387.5,350" fill="#9acd32" stroke="#000"/>
<polyline points="295,306.2 328.8,307 328.8,330 340,337.5 355,342.5 380,343.8 395,345" fill="none" stroke="#000"/>
<polygon points="294.5,316.2 315,317 315,327.5 305,327.5 305,322.5 294.5,322" fill="#6b8e23" stroke="#000"/>
<polyline points="302.5,341.2 315,341.2 315,347.5 310,347.5 310,352.5 302.5,352.5" fill="none" stroke="#000"/>
<polygon points="325,355 336.2,355 336.2,366.2 325,366.2" fill="#6b8e23" stroke="#000"/>
<polygon points="241.2,348.8 252.5,348.8 252.5,365 241.2,365" fill="#6b8e23" stroke="#000"/>
<polygon points="243.8,351.2 253.8,348.8 252.5,363.8 242.5,365" fill="#6b8e23" stroke="#000"/>
<polygon points="251.2,365 268.8,365 267.5,380 257.5,373.8" fill="#006400" stroke="#000"/>
<polyline points="303.8,341.2 315,341.2 315,347.5 310,348 310,353.8 303.8,353.8 303.8,341.2" fill="none" stroke="#000"/>
<polygon points="293.8,365 299.5,365 299.5,371.2 293.8,371.2" fill="#9acd32" stroke="#000"/>
<polygon points="299.5,360 306.2,360 306.2,370 299.5,370" fill="#6b8e23" stroke="#000"/>
<polygon points="325,355 332.5,354.5 336.2,361.2 335,367.5 325,365" fill="#6b8e23" stroke="#000"/>
<polygon points="343.8,375 355,371.2 365,377.5 360,383.8 347.5,382.5" fill="#228b22" stroke="#000"/>
<polygon points="363.8,378.8 371.2,380 370,391.2 363.8,390" fill="#6b8e23" stroke="#000"/>
<polygon points="311.2,372 324.5,372 324.5,380 311.2,380" fill="#9acd32" stroke="#000"/>
<polygon points="305,392.5 328.8,392 330,402.5 338.8,416.2 338.8,422.5 325,421.2 315,405" fill="#9acd32" stroke="#000"/>
<polygon points="325,422 338,423 338,433.8 330,433" fill="#ffffff" stroke="#000"/>
<polygon points="341.2,330 348.8,330 349.5,347.5 339.5,347" fill="#9acd32" stroke="#000"/>
<polygon points="361.2,343.8 367.5,343.8 367.5,348.8 361.2,348.8" fill="#9acd32" stroke="#000"/>
<polygon points="390,343.8 397,343.8 397.5,352.5 390.5,352" fill="#9acd32" stroke="#000"/>
<polygon points="380,362.5 390,362.5 392.5,371.2 401.2,378.8 400,392.5 390,391.2 377.5,387.5 380,380" fill="#6b8e23" stroke="#000"/>
<polygon points="402.5,355 420,360 430,367.5 430,390 415,400 402.5,397.5 401.2,378.8" fill="#6b8e23" stroke="#000"/>
<polygon points="408.8,370 417.5,371.2 417,386.2 408.8,385" fill="#228b22" stroke="#000"/>
<polygon points="373.8,390 390,391.2 393.8,400 380,410 370,405" fill="#006400" stroke="#000"/>
<polygon points="330,407.5 340,408 339.5,415 330.5,414.5" fill="#006400" stroke="#000"/>
<polygon points="352.5,411.2 362.5,409.5 365,415 355,418" fill="#9acd32" stroke="#000"/>
<polygon points="358.8,420.5 362.5,419.5 362,424.5 359,425" fill="#000000" stroke="#000"/>
<polygon points="420,387.5 430,388 430,400 420.5,399.5" fill="#006400" stroke="#000"/>
<polygon points="380,352.5 387.5,353 387.5,361.2 380.5,360.8" fill="#6b8e23" stroke="#000"/>
<polygon points="203.1,425.6 210,425 210,430 206.2,431 203.5,428.8" fill="#6b8e23" stroke="#000"/>
<polygon points="196.9,428.8 199.4,426.9 201,428.1 198.1,430.6" fill="#000000" stroke="#000"/>
<polygon points="221.2,436.9 225,434.4 228.8,438.8 228.5,441.2 223.8,440.6" fill="#006400" stroke="#000"/>
<polygon points="232.5,442.8 240,442.8 240,445.2 233.1,444.8" fill="#9acd32" stroke="#000"/>
<polygon points="235.6,446.5 238.8,446.5 238.8,449.4 235.6,449.4" fill="#9acd32" stroke="#000"/>
<polygon points="240.6,446.9 245,447.5 248.8,450 246.9,452.5 241.9,451.9" fill="#9acd32" stroke="#000"/>
<polygon points="238.8,452.2 242.5,451.9 242.5,453.8 239,454" fill="#000000" stroke="#000"/>
<polygon points="246.2,463.8 249.4,458.1 251.9,457.5 258.1,461.9 261.9,468.1 258.1,471.2 251.2,476.2 247.5,473.8 248.1,468.8" fill="#6b8e23" stroke="#000"/>
<polygon points="421.3,242.1 434.7,242.1 434.7,263.9 421.3,263.9" fill="#006400" stroke="#000"/>
<polygon points="421.1,267.1 432.9,267.1 432.9,278.9 421.1,278.9" fill="#006400" stroke="#000"/>
<polygon points="429,204.8 439,204.8 439,213.2 429,213.2" fill="#006400" stroke="#000"/>
<polygon points="447.1,221.4 458.9,221.4 458.9,236.6 447.1,236.6" fill="#006400" stroke="#000"/>
<polygon points="477.9,206.8 498.1,206.8 498.1,215.2 477.9,215.2" fill="#006400" stroke="#000"/>
<polygon points="469.3,247.1 482.7,247.1 482.7,258.9 469.3,258.9" fill="#006400" stroke="#000"/>
<polygon points="482.2,267.4 505.8,267.4 505.8,282.6 482.2,282.6" fill="#006400" stroke="#000"/>
<polygon points="471.3,297.3 484.7,297.3 484.7,310.7 471.3,310.7" fill="#006400" stroke="#000"/>
<polygon points="489.6,295.1 506.4,295.1 506.4,306.9 489.6,306.9" fill="#006400" stroke="#000"/>
<polygon points="445.3,297.3 458.7,297.3 458.7,310.7 445.3,310.7" fill="#006400" stroke="#000"/>
<polygon points="505.3,239.3 518.7,239.3 518.7,252.7 505.3,252.7" fill="#006400" stroke="#000"/>
<polygon points="515.1,224.8 526.9,224.8 526.9,233.2 515.1,233.2" fill="#006400" stroke="#000"/>
<polygon points="561.6,251.3 578.4,251.3 578.4,264.7 561.6,264.7" fill="#006400" stroke="#000"/>
<polygon points="541.3,291.4 554.7,291.4 554.7,306.6 541.3,306.6" fill="#006400" stroke="#000"/>
<polygon points="561,295.4 571,295.4 571,310.6 561,310.6" fill="#006400" stroke="#000"/>
<polygon points="421,219.1 431,219.1 431,230.9 421,230.9" fill="#006400" stroke="#000"/>
<polygon points="487.4,224.8 502.6,224.8 502.6,233.2 487.4,233.2" fill="#006400" stroke="#000"/>
<polygon points="533.3,205 546.7,205 546.7,215 533.3,215" fill="#006400" stroke="#000"/>
<polygon points="439.3,255 452.7,255 452.7,265 439.3,265" fill="#006400" stroke="#000"/>
<polygon points="457.3,269 470.7,269 470.7,279 457.3,279" fill="#006400" stroke="#000"/>
<polygon points="509.3,286.8 522.7,286.8 522.7,295.2 509.3,295.2" fill="#006400" stroke="#000"/>
<polygon points="525.3,305.3 538.7,305.3 538.7,318.7 525.3,318.7" fill="#006400" stroke="#000"/>
<polygon points="421,289 431,289 431,299 421,299" fill="#006400" stroke="#000"/>
<polygon points="538,228 542,230 546,229 545,235 548,238 547,245 540,244 535,240 536,233" fill="#ffffff" stroke="#000"/>
<polygon points="482,217 493,217 493,221 482,221" fill="#ffffff" stroke="#000"/>
<polygon points="499,220 503,220 503,223.6 499,223.6" fill="#ffffff" stroke="#000"/>
<polygon points="457,247 461,247 461,253.6 457,253.6" fill="#ffffff" stroke="#000"/>
<polygon points="554,248 561,248 561,252 554,252" fill="#ffffff" stroke="#000"/>
<polygon points="548,315.6 560,315.6 560,320 548,320" fill="#ffffff" stroke="#000"/>
<polygon points="501,256 508,254 521,254 524,260 529,255 534,250 540,249 548,252 558,252 556,260 548,261 540,262 532,266 524,265 514,264 506,266 502,262" fill="#6b8e23" stroke="#000"/>
<polygon points="556,270 564,266 568,276 580,283 580,288 553,289 551,280" fill="#6b8e23" stroke="#000"/>
<polygon points="532,264 540,262 545,266 543,276 548,280 544,286 538,282 532,283 524,280 521,275 528,273 529,268" fill="#9acd32" stroke="#000"/>
<polygon points="550,258 560,259 559,270 551,269" fill="#9acd32" stroke="#000"/>
<polygon points="437,288 445,288 445,294 437,294" fill="#9acd32" stroke="#000"/>
<polygon points="442,282 451,282 451,286 442,286" fill="#9acd32" stroke="#000"/>
<polygon points="446,311 455,311 455,318 446,318" fill="#9acd32" stroke="#000"/>
<polygon points="454,236 460,236 460,239 454,239" fill="#9acd32" stroke="#000"/>
<polygon points="467,222 470,222 470,232 467,232" fill="#9acd32" stroke="#000"/>
<polygon points="468,260 475,260 475,264 468,264" fill="#9acd32" stroke="#000"/>
<polygon points="494,236 499,236 499,240 494,240" fill="#9acd32" stroke="#000"/>
<polygon points="511,234 514,234 514,238 511,238" fill="#9acd32" stroke="#000"/>
<polygon points="528,242 533,242 533,247 528,247" fill="#9acd32" stroke="#000"/>
<polygon points="568,217 573,217 573,222 568,222" fill="#9acd32" stroke="#000"/>
<polygon points="558,224 565,224 565,230 558,230" fill="#9acd32" stroke="#000"/>
<polygon points="563,237 572,237 572,242 563,242" fill="#9acd32" stroke="#000"/>
<polygon points="575,230 580,230 580,233 575,233" fill="#9acd32" stroke="#000"/>
<polygon points="575,260 580,260 580,264 575,264" fill="#9acd32" stroke="#000"/>
<polygon points="444,244 450,244 450,252 444,252" fill="#6b8e23" stroke="#000"/>
<polygon points="450,246 457,246 457,255 450,255" fill="#6b8e23" stroke="#000"/>
<polygon points="440,215 446,215 446,219 440,219" fill="#6b8e23" stroke="#000"/>
<polygon points="473,218 482,218 482,222 473,222" fill="#6b8e23" stroke="#000"/>
<polygon points="425,304 436,304 436,318 425,318" fill="#6b8e23" stroke="#000"/>
<polygon points="460,293 468,293 468,299 460,299" fill="#6b8e23" stroke="#000"/>
<polygon points="473,288 482,288 482,295 473,295" fill="#6b8e23" stroke="#000"/>
<polygon points="477,280 484,280 484,285 477,285" fill="#6b8e23" stroke="#000"/>
<polygon points="494,206 499,206 499,209 494,209" fill="#6b8e23" stroke="#000"/>
<polygon points="624,122 627,119.6 630,121 635,119 641,121 644,130 645,138 649,140 657,149 656,153 650,158 644,162 641,160 639,156 636,155 634,150 630,148 628,140 625,134 622,130" fill="#9acd32" stroke="#000"/>
<polygon points="635.6,147 643,146 645,152 640,156 635.6,153" fill="#6b8e23" stroke="#000"/>
<polygon points="624.6,168.8 631.4,168.8 631.4,177.2 624.6,177.2" fill="#006400" stroke="#000"/>
<polygon points="611,155 616,154 620,168 621,176 617,182 612,189 609,186 611,170" fill="#9acd32" stroke="#000"/>
<polygon points="615,174 623,174.4 622.4,186 615.6,185.6" fill="#6b8e23" stroke="#000"/>
<polygon points="597,163 612,159 611,170 609,186 608,191 600,190 599,174" fill="#6b8e23" stroke="#000"/>
<polygon points="575,170 580,167 597,163 599,174 597,179 592,181 591,190 587,192 585,186 577,187 572,185 573,174" fill="#6b8e23" stroke="#000"/>
<polygon points="570,177 576,177 576,183 570,183" fill="#9acd32" stroke="#000"/>
<polygon points="593,180 600,180.4 599.6,189 593.6,188.4" fill="#9acd32" stroke="#000"/>
<polygon points="581,179 584,180 585,187 587,193 580,194 576,190 580,186" fill="#ffffff" stroke="#000"/>
<polygon points="545.8,196.8 564.2,196.8 564.2,205.2 545.8,205.2" fill="#006400" stroke="#000"/>
<polygon points="540.6,207.3 547.4,207.3 547.4,220.7 540.6,220.7" fill="#006400" stroke="#000"/>
<polygon points="587.4,192.5 602.6,192.5 602.6,197.5 587.4,197.5" fill="#006400" stroke="#000"/>
<polygon points="591,211 601,211 601,221 591,221" fill="#006400" stroke="#000"/>
<polygon points="607.1,190.6 618.9,190.6 618.9,197.4 607.1,197.4" fill="#006400" stroke="#000"/>
<polygon points="620.8,183 629.2,183 629.2,193 620.8,193" fill="#006400" stroke="#000"/>
<polygon points="620.6,197 627.4,197 627.4,207 620.6,207" fill="#006400" stroke="#000"/>
<polygon points="598.5,222.6 603.5,222.6 603.5,229.4 598.5,229.4" fill="#006400" stroke="#000"/>
<polygon points="565.3,222.6 578.7,222.6 578.7,229.4 565.3,229.4" fill="#006400" stroke="#000"/>
<polygon points="570,200 574,200 574,204 570,204" fill="#9acd32" stroke="#000"/>
<polygon points="572,205 580,205 580,208 572,208" fill="#9acd32" stroke="#000"/>
<polygon points="591,203 599,203 599,209 591,209" fill="#9acd32" stroke="#000"/>
<polygon points="563,217 573,217 573,222 563,222" fill="#9acd32" stroke="#000"/>
<polygon points="573,219 578,219 578,225 573,225" fill="#9acd32" stroke="#000"/>
<polygon points="558,224 566,224 566,229 558,229" fill="#9acd32" stroke="#000"/>
<polygon points="584,218 589,218 589,223 584,223" fill="#9acd32" stroke="#000"/>
<polygon points="544,226 550,226 550,230 544,230" fill="#9acd32" stroke="#000"/>
<polygon points="631,200 636,200 636,204 631,204" fill="#9acd32" stroke="#000"/>
<polygon points="603,202 607,202 607,206 603,206" fill="#ffffff" stroke="#000"/>
<polygon points="617,205 621,205 621,210 617,210" fill="#6b8e23" stroke="#000"/>
<polygon points="607,216 616,212 622.4,208.6 621.6,211 616,214.4 609,218" fill="#ffffff" stroke="#000"/>
<polyline points="597,163 599,174 600,190" fill="none" stroke="#000"/>
<polyline points="612,159 611,170 609,186" fill="none" stroke="#000"/>
<polygon points="576,266 588,264 594,276 594,284 580,284" fill="#006400" stroke="#000"/>
<polygon points="584,284 594,284 596,304 586,304" fill="#006400" stroke="#000"/>
<polygon points="589.3,211.3 602.7,211.3 602.7,224.7 589.3,224.7" fill="#006400" stroke="#000"/>
<polygon points="541.6,294.8 558.4,294.8 558.4,303.2 541.6,303.2" fill="#006400" stroke="#000"/>
<polygon points="560.8,297.3 569.2,297.3 569.2,310.7 560.8,310.7" fill="#006400" stroke="#000"/>
<polygon points="605.3,204.6 618.7,204.6 618.7,211.4 605.3,211.4" fill="#006400" stroke="#000"/>
<polygon points="563,217 573,217 573,223 563,223" fill="#9acd32" stroke="#000"/>
<polygon points="558,224 565,224 565,230 558,230" fill="#9acd32" stroke="#000"/>
<polygon points="575,219 579,219 579,225 575,225" fill="#9acd32" stroke="#000"/>
<polygon points="584,218 589,218 589,222 584,222" fill="#9acd32" stroke="#000"/>
<polygon points="591,204 598,204 598,209 591,209" fill="#9acd32" stroke="#000"/>
<polygon points="570,204 580,204 580,209 570,209" fill="#9acd32" stroke="#000"/>
<polygon points="563,237 567,237 567,243 563,243" fill="#9acd32" stroke="#000"/>
<polygon points="556,231 559,231 559,236 556,236" fill="#9acd32" stroke="#000"/>
<polygon points="575,230 579,230 579,233 575,233" fill="#9acd32" stroke="#000"/>
<polygon points="596,239 601,239 601,243 596,243" fill="#9acd32" stroke="#000"/>
<polygon points="592,245 597,245 597,249 592,249" fill="#9acd32" stroke="#000"/>
<polygon points="570,294 580,294 580,298 570,298" fill="#9acd32" stroke="#000"/>
<polygon points="571,301 575,301 575,306 571,306" fill="#9acd32" stroke="#000"/>
<polygon points="580,303 588,303 588,309 580,309" fill="#9acd32" stroke="#000"/>
<polygon points="629,200 640,200 640,205 629,205" fill="#9acd32" stroke="#000"/>
<polygon points="575,262 582,263 582.4,270 576,269.6" fill="#9acd32" stroke="#000"/>
<polygon points="577.2,264.7 579.8,264.7 579.8,267.7 577.2,267.7" fill="#006400" stroke="#000"/>
<polygon points="585,248 589,248 589,256 585,256" fill="#6b8e23" stroke="#000"/>
<polygon points="579,308 584,308 584,314 579,314" fill="#6b8e23" stroke="#000"/>
<polygon points="608,215 618,211 620.4,211.6 612,217.6" fill="#ffffff" stroke="#000"/>
<polygon points="582,245 584,245 586,258 590,268 591,278 589,278 587,268 583,258" fill="#ffffff" stroke="#000"/>
<polyline points="580,243 582.4,258 588,270 590,280" fill="none" stroke="#000"/>
<polygon points="591,287 596,288 600,296 598,302 592,304 594,298 596,294" fill="#ffffff" stroke="#000"/>
<polygon points="549,315.6 560,315.6 560,320 549,320" fill="#ffffff" stroke="#000"/>
<polygon points="425,306 438,304 439,312 435,318 428,317" fill="#6b8e23" stroke="#000"/>
<polygon points="423,325 430,319 434,324 433,333 425,332" fill="#6b8e23" stroke="#000"/>
<polygon points="400,370 410,370 412,364 422,366 424,378 420,386 412,390 400,392" fill="#6b8e23" stroke="#000"/>
<polygon points="432,364 436,370 443,372 445,380 438,381 426,380 425,376" fill="#6b8e23" stroke="#000"/>
<polygon points="448,374 458,374 458,380 448,380" fill="#6b8e23" stroke="#000"/>
<polygon points="462,350 467,343 472,346 472,353 479,354 480,366 482,377 470,378 462,374" fill="#6b8e23" stroke="#000"/>
<polygon points="482,323 488,321 491,329 495,340 496,352 488,354 483,350 485,340 481,330" fill="#6b8e23" stroke="#000"/>
<polygon points="480,366 488,356 498,356 499,366 497,374 488,375 482,377" fill="#6b8e23" stroke="#000"/>
<polygon points="518,376 524,372 540,374 544,382 543,398 536,399 528,398 520,386" fill="#6b8e23" stroke="#000"/>
<polygon points="488,376 500,375 506,384 505,394 500,394 498,384 489,382" fill="#6b8e23" stroke="#000"/>
<polygon points="509,344 520,344 520,358 509,358" fill="#6b8e23" stroke="#000"/>
<polygon points="514,328 522,328 522,336 514,336" fill="#6b8e23" stroke="#000"/>
<polygon points="528,312 536,312 536,320 528,320" fill="#6b8e23" stroke="#000"/>
<polygon points="544,346 552,346 552,354 544,354" fill="#6b8e23" stroke="#000"/>
<polygon points="460,293 468,293 468,299 460,299" fill="#6b8e23" stroke="#000"/>
<polygon points="474,290 482,290 482,297 474,297" fill="#6b8e23" stroke="#000"/>
<polygon points="428,394 446,394 446,408 428,408" fill="#6b8e23" stroke="#000"/>
<polygon points="415,333 424,333 424,343 415,343" fill="#9acd32" stroke="#000"/>
<polygon points="469,326 480,326 480,332 469,332" fill="#9acd32" stroke="#000"/>
<polygon points="446,311 456,311 456,318 446,318" fill="#9acd32" stroke="#000"/>
<polygon points="436,290 443,290 443,295 436,295" fill="#9acd32" stroke="#000"/>
<polygon points="484,333 491,333 491,340 484,340" fill="#9acd32" stroke="#000"/>
<polygon points="524,325 532,325 532,332 524,332" fill="#9acd32" stroke="#000"/>
<polygon points="506,362 517,362 517,369 506,369" fill="#9acd32" stroke="#000"/>
<polygon points="516,318 520,318 520,323 516,323" fill="#9acd32" stroke="#000"/>
<polygon points="532,312 538,312 538,317 532,317" fill="#9acd32" stroke="#000"/>
<polygon points="548,325 552,325 552,330 548,330" fill="#9acd32" stroke="#000"/>
<polygon points="496,320 500,320 500,324 496,324" fill="#9acd32" stroke="#000"/>
<polygon points="554,292 558,292 558,298 554,298" fill="#9acd32" stroke="#000"/>
<polygon points="538,338 548,333 551,337 543,344" fill="#9acd32" stroke="#000"/>
<polygon points="490,373 498,367 500,370 499,376 491,376" fill="#9acd32" stroke="#000"/>
<polygon points="462,329 469,329 469,332.4 479,332.4 478,337 469,337 469,343 462,342.4" fill="#ffffff" stroke="#000"/>
<polygon points="505,379 518,379 513,386 509,388" fill="#ffffff" stroke="#000"/>
<polygon points="537,357 544,357 544,362 537,362" fill="#ffffff" stroke="#000"/>
<polygon points="543,343 550,340 553,343 546,347" fill="#ffffff" stroke="#000"/>
<polygon points="549,316 560,315 560,322 552,322" fill="#ffffff" stroke="#000"/>
<polygon points="550,327 560,326 560,333 553,334" fill="#ffffff" stroke="#000"/>
<polygon points="404,326 412,321 421,325 422,330 415,333 408,336" fill="#006400" stroke="#000"/>
<polygon points="440,317 450,317 450,327 440,327" fill="#006400" stroke="#000"/>
<polygon points="450,325 461,324 461,352 447,352 448,336" fill="#006400" stroke="#000"/>
<polygon points="435.8,354.4 444.2,354.4 444.2,368.6 435.8,368.6" fill="#006400" stroke="#000"/>
<polygon points="470,338 479,333 484,338 482,348 476,352 471,348" fill="#006400" stroke="#000"/>
<polygon points="496,330 504,326 512,330 514,340 508,346 498,344 495,336" fill="#006400" stroke="#000"/>
<polygon points="468,304 476,299 484,300 485,312 480,316 470,315" fill="#006400" stroke="#000"/>
<polygon points="518,364 528,358 540,364 538,370 528,374 520,372" fill="#006400" stroke="#000"/>
<polygon points="425,381.1 435,381.1 435,392.9 425,392.9" fill="#006400" stroke="#000"/>
<polygon points="439,391.1 449,391.1 449,402.9 439,402.9" fill="#006400" stroke="#000"/>
<polygon points="413,391 423,391 423,401 413,401" fill="#006400" stroke="#000"/>
<polygon points="540,364 548,366 554,378 560,402 550,402 544,382" fill="#006400" stroke="#000"/>
<polyline points="443,300 438,316 430,332 428,350 432,364 424,378" fill="none" stroke="#000"/>
<polyline points="461,324 461,374 462,384" fill="none" stroke="#000"/>
<polyline points="481,330 485,340 496,352 500,374" fill="none" stroke="#000"/>
<polygon points="517.5,383.5 523.5,378.2 532.5,379 537,385 541.5,386.5 545.2,389.5 546,397 540,399.2 534,398.5 528,395.5 522,389.5" fill="#6b8e23" stroke="#000"/>
<polygon points="526.5,370 543,370 547.5,382 546,389.5 541.5,386.5 538.5,379 531,377.5" fill="#006400" stroke="#000"/>
<polygon points="546,389.5 549.7,391 555,398.5 550.5,400 546,397" fill="#228b22" stroke="#000"/>
<polygon points="543,399.2 550.5,400 555,404.5 556.5,413.5 552,415 546,407.5 543,404.5" fill="#006400" stroke="#000"/>
<polygon points="555,400 558,401.5 561.7,412 558,415 556.5,413.5 555,404.5" fill="#6b8e23" stroke="#000"/>
<polygon points="534,405.2 539.2,403.7 542.2,409 543,419.5 541.5,427 537.7,425.5 534,416.5" fill="#006400" stroke="#000"/>
<polygon points="543,409 547.5,407.5 553.5,415 550.5,418 544.5,418" fill="#228b22" stroke="#000"/>
<polygon points="543.7,416.8 550.2,416.8 550.2,425.2 544.2,425.2" fill="#6b8e23" stroke="#000"/>
<polygon points="550,416.8 554.2,417.2 553.8,423.7 550.2,423.4" fill="#9acd32" stroke="#000"/>
<polygon points="554.2,422.5 559.5,419.5 559.5,430 556.5,434.5 552,433 550.5,427" fill="#6b8e23" stroke="#000"/>
<polygon points="561,415.7 564.7,416.5 567.7,423.2 561.7,424" fill="#228b22" stroke="#000"/>
<polygon points="560.2,424.7 568.5,423.2 570.7,433 570,445 565.5,448.7 561.7,443.5 559.5,433" fill="#006400" stroke="#000"/>
<polygon points="546,430 550.5,428.5 558,434.5 561,440.5 555,441.2 549.7,437.5" fill="#228b22" stroke="#000"/>
<polygon points="556.8,440.8 561.7,443.5 562.5,449.2 558,446.5" fill="#6b8e23" stroke="#000"/>
<polygon points="544.5,425.8 549.7,425.5 549.7,429.2 544.8,429.4" fill="#9acd32" stroke="#000"/>
<polygon points="534,399.5 537.7,399.2 537.7,403 534.3,403.3" fill="#9acd32" stroke="#000"/>
<polygon points="538.5,400 542.2,400 542.2,404.5 538.8,404.2" fill="#ffffff" stroke="#000"/>
<polygon points="492,377.5 504,376 508.5,386.5 506.2,392.5 501,393.2 495,385" fill="#6b8e23" stroke="#000"/>
<polygon points="501,370 517.5,370 517.5,378.2 504,376" fill="#006400" stroke="#000"/>
<polygon points="550.5,456.7 555,455.5 559.5,454.7 559.2,456.2 555,457.3 550.8,457.9" fill="#000000" stroke="#000"/>
<polygon points="561,454 567,452.2 567.3,454 561.7,455.8" fill="#000000" stroke="#000"/>
<polygon points="483.5,172.5 489.5,172.2 496.2,176.2 498.2,184.5 497.7,192 492.5,195 488,196.5 482.7,196.5 482,193.5 484.2,187.5 483.2,180" fill="#9acd32" stroke="#000"/>
<polygon points="470,184.5 476,182.2 482,176.2 483.5,180 484.2,187.5 482,193.5 470,194.2 468.5,189" fill="#228b22" stroke="#000"/>
<polygon points="490.2,201 495.5,201 495.5,205.5 490.2,205.5" fill="#6b8e23" stroke="#000"/>
<polygon points="494.7,204.7 499.2,204.7 499.2,209.2 494.7,209.2" fill="#6b8e23" stroke="#000"/>
<polygon points="469.2,204 474.5,204 474.5,207.7 469.2,207.7" fill="#9acd32" stroke="#000"/>
<polygon points="473.7,218.2 482,218.2 482,222 473.7,222" fill="#6b8e23" stroke="#000"/>
<polygon points="482.7,217.2 488,217.2 488,220.8 482.7,220.8" fill="#ffffff" stroke="#000"/>
<polygon points="488.7,217.2 494,217.2 494,220.5 488.7,220.5" fill="#ffffff" stroke="#000"/>
<polygon points="498.5,219.7 503,219.7 503,223.5 498.5,223.5" fill="#ffffff" stroke="#000"/>
<polygon points="487.2,197.2 491,197.2 491,200.2 487.2,200.2" fill="#ffffff" stroke="#000"/>
<polygon points="494.7,193.5 497.7,193.5 497.7,197.2 494.7,197.2" fill="#ffffff" stroke="#000"/>
<polygon points="480.5,207 485,207 485,211.5 480.5,211.5" fill="#228b22" stroke="#000"/>
<polygon points="489.5,210 497,210 497,216 489.5,216" fill="#228b22" stroke="#000"/>
<polygon points="495.5,237 499.2,237 499.2,240 495.5,240" fill="#9acd32" stroke="#000"/>
<polygon points="511.2,233.2 514.2,233.2 514.2,238.5 511.2,238.5" fill="#9acd32" stroke="#000"/>
<polygon points="523.9,221.3 530.8,221.3 530.8,230.2 523.9,230.2" fill="#006400" stroke="#000"/>
<polygon points="545.7,197.3 553.3,197.3 553.3,206.2 545.7,206.2" fill="#006400" stroke="#000"/>
<polygon points="441,172.4 451,172.4 451,187.6 441,187.6" fill="#006400" stroke="#000"/>
<polygon points="444.5,200.2 451.2,200.2 451.2,204 444.5,204" fill="#6b8e23" stroke="#000"/>
<polygon points="452,200.2 455,200.2 455,204 452,204" fill="#9acd32" stroke="#000"/>
<polygon points="440.7,205 448.3,205 448.3,215 440.7,215" fill="#006400" stroke="#000"/>
<polygon points="440,215.2 446,215.2 446,223.5 440,223.5" fill="#6b8e23" stroke="#000"/>
<polygon points="451.2,213.7 455,213.7 455,216.7 451.2,216.7" fill="#6b8e23" stroke="#000"/>
<polygon points="447.1,221.6 458.4,221.6 458.4,232.9 447.1,232.9" fill="#006400" stroke="#000"/>
<polygon points="454.2,235.5 459.5,235.5 459.5,238.5 454.2,238.5" fill="#9acd32" stroke="#000"/>
<polygon points="467.7,227.2 470.7,227.2 470.7,232.5 467.7,232.5" fill="#9acd32" stroke="#000"/>
<polygon points="470,223.5 473,223.5 473,226.5 470,226.5" fill="#9acd32" stroke="#000"/>
<polygon points="471.5,227.2 479.7,227.2 479.7,231 471.5,231" fill="#6b8e23" stroke="#000"/>
<polygon points="470,169.5 481.2,168.7 480.5,172.5 473.7,172.5 473,180 469.7,180" fill="#ffffff" stroke="#000"/>
<polygon points="474.5,170.2 476.7,169.5 477.2,174 475.2,174.7" fill="#000000" stroke="#000"/>
<polygon points="473.7,179.2 476.7,177.7 476.7,184.5 474.5,185.2" fill="#000000" stroke="#000"/>
<polygon points="480.5,168.7 482.7,168.3 482,172.5 480.2,172.5" fill="#000000" stroke="#000"/>
<polyline points="180,305 193.8,312.5 210,335" fill="none" stroke="#000"/>
<polyline points="190,288 197.5,325 205,330" fill="none" stroke="#000"/>
<polyline points="210,289.5 206.2,340" fill="none" stroke="#000"/>
<polyline points="163.8,307.5 180,305 178.8,287" fill="none" stroke="#000"/>
<polyline points="160,330 175,326.2" fill="none" stroke="#000"/>
<polyline points="195,327.5 206.2,340 225,343.8" fill="none" stroke="#000"/>
<polygon points="755.6,500.6 765,497.5 777.5,495.6 778.1,498.8 775,501.9 765,505.6 757.5,508.1 756.2,505" fill="#000000" stroke="#000"/>
<polygon points="765,498.5 776.2,496.5 776.5,499 773.8,501 765.6,501.9" fill="#006400"/>
<polygon points="756.9,501.2 758.8,501 758.8,502.8 757,503" fill="#9acd32"/>
<polygon points="760,500 763.1,499.8 763.1,501 760.2,501.2" fill="#ffffff"/>
<polygon points="746.9,508.1 749,508.1 749,510 746.9,510" fill="#000000" stroke="#000"/>
<polygon points="780,495 781.9,495 781.9,496.9 780,496.9" fill="#000000" stroke="#000"/>
<polygon points="783.1,493.1 788.8,492.2 788.8,493.8 783.5,494.5" fill="#000000" stroke="#000"/>
<polygon points="788.1,500.6 793.1,499.8 792.5,502.2 788.5,502.8" fill="#000000" stroke="#000"/>
<polygon points="126.2,425 152.5,423.8 151.2,435 145,436.2 141.2,441.2 136.2,436.2 128.8,435 125,431.2" fill="#006400" stroke="#000"/>
<polygon points="146.2,411.2 156.2,410 163.8,414.5 161.2,418.8 150,418.8 145.5,415.5" fill="#6b8e23" stroke="#000"/>
<polygon points="60.5,403.8 67.5,405 71.2,409.5 67.5,410.5 61.2,406.2" fill="#9acd32" stroke="#000"/>
<polygon points="51.2,423.2 53.8,423.2 53.8,425.8 51.2,425.8" fill="#000000" stroke="#000"/>
<polygon points="71.2,430.5 77.5,430.5 77.5,435 71.2,435" fill="#9acd32" stroke="#000"/>
<polygon points="113.8,460 121.2,455 125.5,456.2 123.8,461.2 116.2,464.5" fill="#9acd32" stroke="#000"/>
<polygon points="53.8,478 62.5,473.8 66.2,474.5 60,478 54.5,479.5" fill="#000000" stroke="#000"/>
<polygon points="30,477.5 33.8,477.5 33.8,479.5 30,479.5" fill="#000000" stroke="#000"/>
<polygon points="166,449.5 169,449 176.5,449.5 177.5,453 181,458.5 185,456 189.5,455 193,460 196.5,467 198,471 202,478 207,484 206,489 204,492 200,491 197,492.5 194,491.5 192.5,487 190,480 186,474 183.5,468 182,464 178,460 174,456 170,453" fill="#000000" stroke="#000"/>
<polygon points="168.5,450.5 173,450 174,451.5 170,452.5" fill="#9acd32"/>
<polygon points="174.5,452.5 176,453 179.5,458.5 178,458.5" fill="#9acd32"/>
<polygon points="180.5,461 182.5,461.5 184,464 181.5,463.5" fill="#9acd32"/>
<polygon points="186,457.5 187.5,457 189,463.5 187.5,464" fill="#9acd32"/>
<polygon points="190,460 191.5,460.5 194.5,467 193,467.5" fill="#9acd32"/>
<polygon points="184.5,467 187,467.5 188,469.5 185,469" fill="#9acd32"/>
<polygon points="195,472 197,472.5 200,480 198.5,480.5" fill="#9acd32"/>
<polygon points="193.5,476.5 195.5,477 196,479 193.8,478.8" fill="#9acd32"/>
<polygon points="194,483 195.8,483.2 196,487 194.2,486.8" fill="#9acd32"/>
<polygon points="201,482 203,481.5 205.5,487 204,489 203,488" fill="#9acd32"/>
<polygon points="188,474 189.2,474.2 189.2,477 188,476.8" fill="#9acd32"/>
<polyline points="101.2,151.2 121.2,148.8 136.2,150 150,152.5 170,153.8" fill="none" stroke="#000"/>
<polyline points="173.8,115 170,153.8 172.5,160 167.5,172.5 161.2,181.2 157.5,206.2" fill="none" stroke="#000"/>
<polyline points="80,193.8 125,200 157.5,206.2 185,211.2 220,215" fill="none" stroke="#000"/>
<polyline points="136.2,150 137.5,165 130,190 135,200" fill="none" stroke="#000"/>
<polyline points="140,107 136.2,113.8" fill="none" stroke="#000"/>
<polyline points="153.8,121.2 160,115 162.5,112" fill="none" stroke="#000"/>
<polyline points="145,131.2 150,146.2" fill="none" stroke="#000"/>
<polyline points="141.2,147.5 150,152.5" fill="none" stroke="#000"/>
<polyline points="206,120 210,138 218,142.4" fill="none" stroke="#000"/>
<polyline points="230,150 239,164 234,175" fill="none" stroke="#000"/>
<polyline points="210,138 200,150 202,180" fill="none" stroke="#000"/>
<polyline points="219,141 216,132 210,124" fill="none" stroke="#000"/>
<polyline points="394,270 420,268 426,280" fill="none" stroke="#000"/>
<polyline points="408,269 408,300 400,316" fill="none" stroke="#000"/>
<polyline points="388,284 408,285 436,280" fill="none" stroke="#000"/>
<polyline points="408,300 426,304" fill="none" stroke="#000"/>
<polygon points="453,188 456,182 461,174 464,171 465.5,173 461,181 455.5,189" fill="#ffffff" stroke="#000"/>
<polyline points="454,189 458,182 463,173" fill="none" stroke="#000"/>
<polygon points="437,145.5 441,143 445,141 445.5,142.5 441,145 437.5,147" fill="#000000" stroke="#000"/>
<polyline points="360,318 375,316 389,320" fill="none" stroke="#000"/>
<polyline points="375,300 375,316 372,349" fill="none" stroke="#000"/>
<polyline points="360,335 372,333 390,337" fill="none" stroke="#000"/>
<polyline points="392,330 410,338 428,334" fill="none" stroke="#000"/>
<polyline points="447,332 447,380" fill="none" stroke="#000"/>
<polygon points="102.5,105.5 108,107 114,109 117,108 119,104 120,101 140,107 165,112.5 205,120.5 240,125 295,130.8 360,134.5 378.8,134 379.2,128 382.5,128 386.2,138.8 400,136.5 409,142 418,142 425.5,143.5 433.8,145 428.5,148 421,154 415,159.2 409,163.8 419.5,159.2 422,157.5 425,160 428.5,163.8 436,159.2 442,154.8 446.5,150.7 452.5,150.2 449.5,154 445,157.8 448,159.2 455.5,160 460,162.2 466,160 472,158.5 478,157.8 484,160.8 487,159.2 488.5,165.2 494.5,165.7 490,167.5 484,167.5 490,172 496,175 498.2,179.5 498.2,188.5 496,193 491.5,196 497.5,193 503.5,191.5 508,196 510.2,205 510,212 507,218 503.8,221.2 510,225 517.5,225 525,220 532.5,215 543.8,206.2 544.5,200 543.8,196.2 552,195 560,193.8 566,189 570,185 567.5,182.5 570,177.5 575,171.2 581.2,166.2 596.2,162.5 612.5,158.8 613.8,153.8 618.8,151.2 621.2,132.5 625.5,121.2 628.8,119.5 631.2,122 636.2,118.8 641.2,121.2 646.2,140 656.2,147.5 656.2,152.5 647.5,160 640,167.5 631.2,172.5 627.5,180 626.2,188.8 632.5,196.2 637.5,195 640,200 640,205 632.5,206.2 623.8,210 616.2,212.5 608.8,217.5 605,220 602.5,232.5 596,245 597.5,255 594,270 590,279 600,292.5 600,300 590,306 586,312.5 577.5,320 570,327.5 560,342.5 552.5,350 547.5,360 545,370 547.5,380 552.5,392.5 561,407.5 567.5,417.5 570,427.5 570,445 565,452.5 559,452.5 550,442.5 544,432.5 537.5,422.5 534,415 532.5,406 531,399 524,392.5 517.5,387.5 507.5,390 502.5,394 497.5,390 487.5,386 475,387.5 460,389.5 452.5,391 450,397 457.5,404 455,407.5 440,407.5 430,404 420,398 405,399 392.5,402.5 380,410 370,416 360,424 356,432.5 359,445 357.5,454 350,451 340,449 332.5,441 329,430 320,420 313.8,407.5 305,397.5 293.8,398.8 287.5,407.5 280,402.5 271.2,395 267.5,385 257.5,373.8 251.2,365 249,364 231,364.4 230,370 220,368.4 204,367 196,365.6 192,363 172,352 159,344 155,342.4 142,339 130,337 129,333 127.5,326.2 121.2,320 112.5,311.2 103.8,305 96.2,301.2 98.8,296.2 96.2,287.5 92.5,280 88.8,272.5 90,265 88.8,255 85,248.8 80.5,240 79.5,230 78,220 77,212.5 79.5,203.8 82,196.2 83.8,188.8 84.2,180 87.5,173.8 92.5,165 95.8,155.5 98,146.2 101.2,136.2 102,127.5 101,115" fill="none" stroke="#000"/>
<polygon points="470,169 464.5,175 460,182.5 457.8,190 456.2,197.5 456.2,208 457,220 459.5,226 462.5,229 466,228 469,225 471.5,218 469,208 467.5,197.5 468.2,190 470.5,179.5 473.5,171 478,168 484,167.5 481,166 475,167.5" fill="#e0e0e0" stroke="#000"/>
</svg>

<div id="title">Employment of loan officers, by area, May 2019</div>
<div id="legt">Employment</div>
<div class="sw" style="left:451px;top:549px;background:#9acd32"></div><div class="lb" style="left:465.5px;top:547px">30 - 100</div>
<div class="sw" style="left:565px;top:549px;background:#6b8e23"></div><div class="lb" style="left:579.5px;top:547px">110 - 200</div>
<div class="sw" style="left:451px;top:563px;background:#228b22"></div><div class="lb" style="left:465.5px;top:561px">210 - 380</div>
<div class="sw" style="left:565px;top:563px;background:#006400"></div><div class="lb" style="left:579.5px;top:561px">390 - 14,900</div>
<div id="foot">Blank areas indicate data not available.</div>
</body></html>
